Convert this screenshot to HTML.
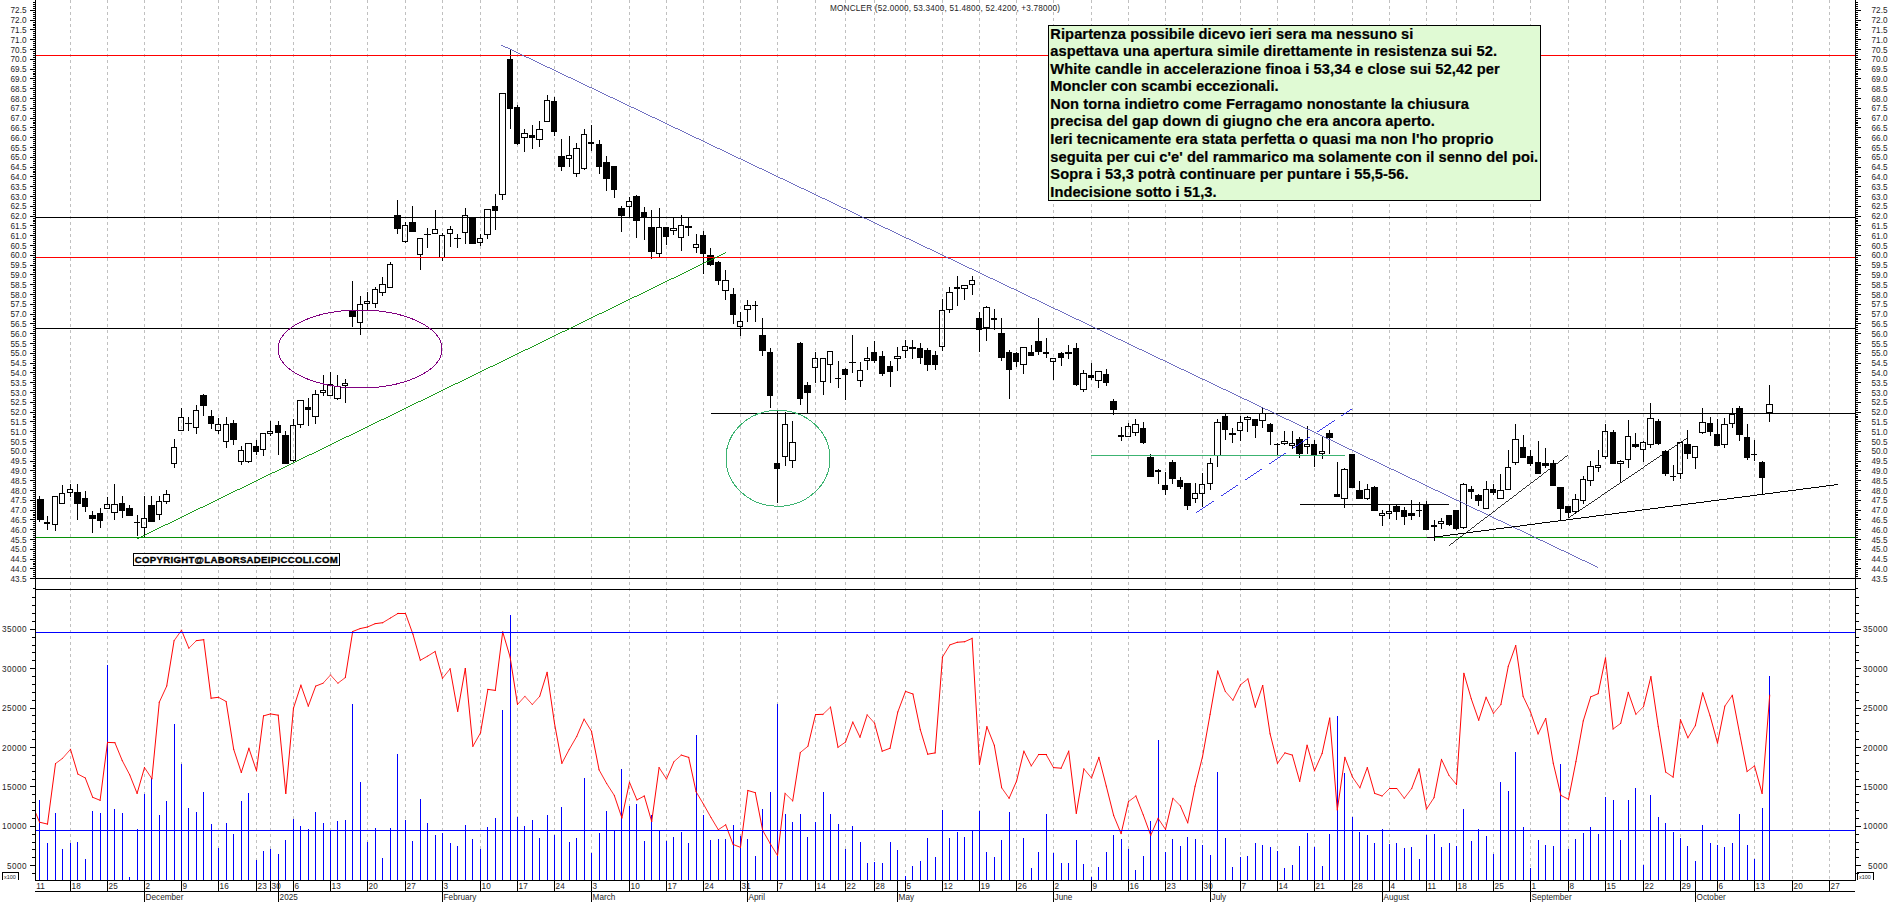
<!DOCTYPE html>
<html><head><meta charset="utf-8"><title>MONCLER</title>
<style>html,body{margin:0;padding:0;background:#fff;}body{width:1890px;height:902px;overflow:hidden;}svg{display:block;}</style></head>
<body>
<svg width="1890" height="902" viewBox="0 0 1890 902" shape-rendering="crispEdges" font-family="'Liberation Sans', Arial, sans-serif">
<rect x="0" y="0" width="1890" height="902" fill="#fff"/>
<g stroke="#c0c0c0" stroke-width="1" stroke-dasharray="3 3">
<line x1="70.5" y1="0" x2="70.5" y2="880"/>
<line x1="107.5" y1="0" x2="107.5" y2="880"/>
<line x1="144.5" y1="0" x2="144.5" y2="880"/>
<line x1="181.5" y1="0" x2="181.5" y2="880"/>
<line x1="218.5" y1="0" x2="218.5" y2="880"/>
<line x1="256.5" y1="0" x2="256.5" y2="880"/>
<line x1="270.5" y1="0" x2="270.5" y2="880"/>
<line x1="293.5" y1="0" x2="293.5" y2="880"/>
<line x1="330.5" y1="0" x2="330.5" y2="880"/>
<line x1="367.5" y1="0" x2="367.5" y2="880"/>
<line x1="405.5" y1="0" x2="405.5" y2="880"/>
<line x1="442.5" y1="0" x2="442.5" y2="880"/>
<line x1="480.5" y1="0" x2="480.5" y2="880"/>
<line x1="517.5" y1="0" x2="517.5" y2="880"/>
<line x1="554.5" y1="0" x2="554.5" y2="880"/>
<line x1="591.5" y1="0" x2="591.5" y2="880"/>
<line x1="629.5" y1="0" x2="629.5" y2="880"/>
<line x1="666.5" y1="0" x2="666.5" y2="880"/>
<line x1="703.5" y1="0" x2="703.5" y2="880"/>
<line x1="740.5" y1="0" x2="740.5" y2="880"/>
<line x1="777.5" y1="0" x2="777.5" y2="880"/>
<line x1="815.5" y1="0" x2="815.5" y2="880"/>
<line x1="845.5" y1="0" x2="845.5" y2="880"/>
<line x1="874.5" y1="0" x2="874.5" y2="880"/>
<line x1="905.5" y1="0" x2="905.5" y2="880"/>
<line x1="942.5" y1="0" x2="942.5" y2="880"/>
<line x1="979.5" y1="0" x2="979.5" y2="880"/>
<line x1="1016.5" y1="0" x2="1016.5" y2="880"/>
<line x1="1053.5" y1="0" x2="1053.5" y2="880"/>
<line x1="1091.5" y1="0" x2="1091.5" y2="880"/>
<line x1="1128.5" y1="0" x2="1128.5" y2="880"/>
<line x1="1165.5" y1="0" x2="1165.5" y2="880"/>
<line x1="1202.5" y1="0" x2="1202.5" y2="880"/>
<line x1="1240.5" y1="0" x2="1240.5" y2="880"/>
<line x1="1277.5" y1="0" x2="1277.5" y2="880"/>
<line x1="1314.5" y1="0" x2="1314.5" y2="880"/>
<line x1="1352.5" y1="0" x2="1352.5" y2="880"/>
<line x1="1389.5" y1="0" x2="1389.5" y2="880"/>
<line x1="1426.5" y1="0" x2="1426.5" y2="880"/>
<line x1="1456.5" y1="0" x2="1456.5" y2="880"/>
<line x1="1493.5" y1="0" x2="1493.5" y2="880"/>
<line x1="1530.5" y1="0" x2="1530.5" y2="880"/>
<line x1="1568.5" y1="0" x2="1568.5" y2="880"/>
<line x1="1605.5" y1="0" x2="1605.5" y2="880"/>
<line x1="1643.5" y1="0" x2="1643.5" y2="880"/>
<line x1="1680.5" y1="0" x2="1680.5" y2="880"/>
<line x1="1717.5" y1="0" x2="1717.5" y2="880"/>
<line x1="1754.5" y1="0" x2="1754.5" y2="880"/>
<line x1="1792.5" y1="0" x2="1792.5" y2="880"/>
<line x1="1829.5" y1="0" x2="1829.5" y2="880"/>
</g>
<g stroke="#0000ff" stroke-width="1">
<line x1="39.5" y1="800" x2="39.5" y2="880"/>
<line x1="47.5" y1="843" x2="47.5" y2="880"/>
<line x1="55.5" y1="813" x2="55.5" y2="880"/>
<line x1="62.5" y1="849" x2="62.5" y2="880"/>
<line x1="70.5" y1="843" x2="70.5" y2="880"/>
<line x1="77.5" y1="842" x2="77.5" y2="880"/>
<line x1="85.5" y1="859" x2="85.5" y2="880"/>
<line x1="92.5" y1="811" x2="92.5" y2="880"/>
<line x1="100.5" y1="813" x2="100.5" y2="880"/>
<line x1="107.5" y1="665" x2="107.5" y2="880"/>
<line x1="114.5" y1="809" x2="114.5" y2="880"/>
<line x1="122.5" y1="813" x2="122.5" y2="880"/>
<line x1="129.5" y1="877" x2="129.5" y2="880"/>
<line x1="137.5" y1="829" x2="137.5" y2="880"/>
<line x1="144.5" y1="794" x2="144.5" y2="880"/>
<line x1="151.5" y1="778" x2="151.5" y2="880"/>
<line x1="159.5" y1="815" x2="159.5" y2="880"/>
<line x1="166.5" y1="801" x2="166.5" y2="880"/>
<line x1="174.5" y1="724" x2="174.5" y2="880"/>
<line x1="181.5" y1="764" x2="181.5" y2="880"/>
<line x1="188.5" y1="808" x2="188.5" y2="880"/>
<line x1="196.5" y1="812" x2="196.5" y2="880"/>
<line x1="203.5" y1="792" x2="203.5" y2="880"/>
<line x1="211.5" y1="824" x2="211.5" y2="880"/>
<line x1="218.5" y1="848" x2="218.5" y2="880"/>
<line x1="226.5" y1="823" x2="226.5" y2="880"/>
<line x1="233.5" y1="834" x2="233.5" y2="880"/>
<line x1="241.5" y1="801" x2="241.5" y2="880"/>
<line x1="248.5" y1="793" x2="248.5" y2="880"/>
<line x1="256.5" y1="860" x2="256.5" y2="880"/>
<line x1="263.5" y1="851" x2="263.5" y2="880"/>
<line x1="270.5" y1="849" x2="270.5" y2="880"/>
<line x1="278.5" y1="854" x2="278.5" y2="880"/>
<line x1="285.5" y1="840" x2="285.5" y2="880"/>
<line x1="293.5" y1="819" x2="293.5" y2="880"/>
<line x1="300.5" y1="826" x2="300.5" y2="880"/>
<line x1="308.5" y1="829" x2="308.5" y2="880"/>
<line x1="315.5" y1="812" x2="315.5" y2="880"/>
<line x1="323.5" y1="823" x2="323.5" y2="880"/>
<line x1="330.5" y1="830" x2="330.5" y2="880"/>
<line x1="337.5" y1="821" x2="337.5" y2="880"/>
<line x1="345.5" y1="820" x2="345.5" y2="880"/>
<line x1="352.5" y1="704" x2="352.5" y2="880"/>
<line x1="360.5" y1="782" x2="360.5" y2="880"/>
<line x1="367.5" y1="842" x2="367.5" y2="880"/>
<line x1="375.5" y1="828" x2="375.5" y2="880"/>
<line x1="382.5" y1="858" x2="382.5" y2="880"/>
<line x1="390.5" y1="828" x2="390.5" y2="880"/>
<line x1="397.5" y1="754" x2="397.5" y2="880"/>
<line x1="405.5" y1="820" x2="405.5" y2="880"/>
<line x1="412.5" y1="841" x2="412.5" y2="880"/>
<line x1="420.5" y1="799" x2="420.5" y2="880"/>
<line x1="427.5" y1="823" x2="427.5" y2="880"/>
<line x1="435.5" y1="835" x2="435.5" y2="880"/>
<line x1="442.5" y1="833" x2="442.5" y2="880"/>
<line x1="450.5" y1="843" x2="450.5" y2="880"/>
<line x1="457.5" y1="846" x2="457.5" y2="880"/>
<line x1="465.5" y1="825" x2="465.5" y2="880"/>
<line x1="472.5" y1="839" x2="472.5" y2="880"/>
<line x1="480.5" y1="849" x2="480.5" y2="880"/>
<line x1="487.5" y1="827" x2="487.5" y2="880"/>
<line x1="495.5" y1="818" x2="495.5" y2="880"/>
<line x1="502.5" y1="710" x2="502.5" y2="880"/>
<line x1="510.5" y1="615" x2="510.5" y2="880"/>
<line x1="517.5" y1="817" x2="517.5" y2="880"/>
<line x1="524.5" y1="826" x2="524.5" y2="880"/>
<line x1="532.5" y1="820" x2="532.5" y2="880"/>
<line x1="539.5" y1="838" x2="539.5" y2="880"/>
<line x1="547.5" y1="815" x2="547.5" y2="880"/>
<line x1="554.5" y1="835" x2="554.5" y2="880"/>
<line x1="561.5" y1="807" x2="561.5" y2="880"/>
<line x1="569.5" y1="842" x2="569.5" y2="880"/>
<line x1="576.5" y1="838" x2="576.5" y2="880"/>
<line x1="584.5" y1="778" x2="584.5" y2="880"/>
<line x1="591.5" y1="853" x2="591.5" y2="880"/>
<line x1="599.5" y1="833" x2="599.5" y2="880"/>
<line x1="606.5" y1="811" x2="606.5" y2="880"/>
<line x1="614.5" y1="831" x2="614.5" y2="880"/>
<line x1="621.5" y1="769" x2="621.5" y2="880"/>
<line x1="629.5" y1="806" x2="629.5" y2="880"/>
<line x1="636.5" y1="804" x2="636.5" y2="880"/>
<line x1="644.5" y1="841" x2="644.5" y2="880"/>
<line x1="651.5" y1="815" x2="651.5" y2="880"/>
<line x1="659.5" y1="831" x2="659.5" y2="880"/>
<line x1="666.5" y1="841" x2="666.5" y2="880"/>
<line x1="673.5" y1="837" x2="673.5" y2="880"/>
<line x1="681.5" y1="832" x2="681.5" y2="880"/>
<line x1="688.5" y1="843" x2="688.5" y2="880"/>
<line x1="696.5" y1="735" x2="696.5" y2="880"/>
<line x1="703.5" y1="815" x2="703.5" y2="880"/>
<line x1="710.5" y1="840" x2="710.5" y2="880"/>
<line x1="718.5" y1="839" x2="718.5" y2="880"/>
<line x1="725.5" y1="839" x2="725.5" y2="880"/>
<line x1="733.5" y1="825" x2="733.5" y2="880"/>
<line x1="740.5" y1="836" x2="740.5" y2="880"/>
<line x1="747.5" y1="839" x2="747.5" y2="880"/>
<line x1="755.5" y1="856" x2="755.5" y2="880"/>
<line x1="762.5" y1="809" x2="762.5" y2="880"/>
<line x1="770.5" y1="792" x2="770.5" y2="880"/>
<line x1="777.5" y1="704" x2="777.5" y2="880"/>
<line x1="785.5" y1="814" x2="785.5" y2="880"/>
<line x1="792.5" y1="822" x2="792.5" y2="880"/>
<line x1="800.5" y1="814" x2="800.5" y2="880"/>
<line x1="807.5" y1="837" x2="807.5" y2="880"/>
<line x1="815.5" y1="822" x2="815.5" y2="880"/>
<line x1="823.5" y1="792" x2="823.5" y2="880"/>
<line x1="830.5" y1="814" x2="830.5" y2="880"/>
<line x1="838.5" y1="824" x2="838.5" y2="880"/>
<line x1="845.5" y1="849" x2="845.5" y2="880"/>
<line x1="852.5" y1="826" x2="852.5" y2="880"/>
<line x1="860.5" y1="842" x2="860.5" y2="880"/>
<line x1="867.5" y1="863" x2="867.5" y2="880"/>
<line x1="874.5" y1="862" x2="874.5" y2="880"/>
<line x1="882.5" y1="863" x2="882.5" y2="880"/>
<line x1="890.5" y1="842" x2="890.5" y2="880"/>
<line x1="897.5" y1="850" x2="897.5" y2="880"/>
<line x1="905.5" y1="876" x2="905.5" y2="880"/>
<line x1="912.5" y1="866" x2="912.5" y2="880"/>
<line x1="920.5" y1="861" x2="920.5" y2="880"/>
<line x1="927.5" y1="838" x2="927.5" y2="880"/>
<line x1="935.5" y1="857" x2="935.5" y2="880"/>
<line x1="942.5" y1="810" x2="942.5" y2="880"/>
<line x1="949.5" y1="838" x2="949.5" y2="880"/>
<line x1="957.5" y1="832" x2="957.5" y2="880"/>
<line x1="964.5" y1="837" x2="964.5" y2="880"/>
<line x1="972.5" y1="831" x2="972.5" y2="880"/>
<line x1="979.5" y1="811" x2="979.5" y2="880"/>
<line x1="986.5" y1="852" x2="986.5" y2="880"/>
<line x1="994.5" y1="857" x2="994.5" y2="880"/>
<line x1="1001.5" y1="840" x2="1001.5" y2="880"/>
<line x1="1009.5" y1="812" x2="1009.5" y2="880"/>
<line x1="1023.5" y1="838" x2="1023.5" y2="880"/>
<line x1="1031.5" y1="868" x2="1031.5" y2="880"/>
<line x1="1038.5" y1="852" x2="1038.5" y2="880"/>
<line x1="1046.5" y1="814" x2="1046.5" y2="880"/>
<line x1="1053.5" y1="853" x2="1053.5" y2="880"/>
<line x1="1061.5" y1="863" x2="1061.5" y2="880"/>
<line x1="1068.5" y1="863" x2="1068.5" y2="880"/>
<line x1="1076.5" y1="840" x2="1076.5" y2="880"/>
<line x1="1083.5" y1="864" x2="1083.5" y2="880"/>
<line x1="1091.5" y1="877" x2="1091.5" y2="880"/>
<line x1="1098.5" y1="867" x2="1098.5" y2="880"/>
<line x1="1106.5" y1="852" x2="1106.5" y2="880"/>
<line x1="1113.5" y1="835" x2="1113.5" y2="880"/>
<line x1="1121.5" y1="839" x2="1121.5" y2="880"/>
<line x1="1128.5" y1="849" x2="1128.5" y2="880"/>
<line x1="1135.5" y1="870" x2="1135.5" y2="880"/>
<line x1="1143.5" y1="856" x2="1143.5" y2="880"/>
<line x1="1150.5" y1="821" x2="1150.5" y2="880"/>
<line x1="1158.5" y1="740" x2="1158.5" y2="880"/>
<line x1="1165.5" y1="852" x2="1165.5" y2="880"/>
<line x1="1172.5" y1="839" x2="1172.5" y2="880"/>
<line x1="1180.5" y1="846" x2="1180.5" y2="880"/>
<line x1="1187.5" y1="837" x2="1187.5" y2="880"/>
<line x1="1195.5" y1="839" x2="1195.5" y2="880"/>
<line x1="1202.5" y1="845" x2="1202.5" y2="880"/>
<line x1="1210.5" y1="855" x2="1210.5" y2="880"/>
<line x1="1217.5" y1="772" x2="1217.5" y2="880"/>
<line x1="1225.5" y1="838" x2="1225.5" y2="880"/>
<line x1="1232.5" y1="867" x2="1232.5" y2="880"/>
<line x1="1240.5" y1="857" x2="1240.5" y2="880"/>
<line x1="1247.5" y1="856" x2="1247.5" y2="880"/>
<line x1="1255.5" y1="843" x2="1255.5" y2="880"/>
<line x1="1262.5" y1="845" x2="1262.5" y2="880"/>
<line x1="1270.5" y1="847" x2="1270.5" y2="880"/>
<line x1="1277.5" y1="851" x2="1277.5" y2="880"/>
<line x1="1284.5" y1="868" x2="1284.5" y2="880"/>
<line x1="1292.5" y1="865" x2="1292.5" y2="880"/>
<line x1="1299.5" y1="846" x2="1299.5" y2="880"/>
<line x1="1307.5" y1="833" x2="1307.5" y2="880"/>
<line x1="1314.5" y1="847" x2="1314.5" y2="880"/>
<line x1="1322.5" y1="866" x2="1322.5" y2="880"/>
<line x1="1329.5" y1="834" x2="1329.5" y2="880"/>
<line x1="1337.5" y1="716" x2="1337.5" y2="880"/>
<line x1="1344.5" y1="773" x2="1344.5" y2="880"/>
<line x1="1352.5" y1="817" x2="1352.5" y2="880"/>
<line x1="1359.5" y1="832" x2="1359.5" y2="880"/>
<line x1="1367.5" y1="835" x2="1367.5" y2="880"/>
<line x1="1374.5" y1="843" x2="1374.5" y2="880"/>
<line x1="1382.5" y1="829" x2="1382.5" y2="880"/>
<line x1="1389.5" y1="844" x2="1389.5" y2="880"/>
<line x1="1396.5" y1="843" x2="1396.5" y2="880"/>
<line x1="1404.5" y1="848" x2="1404.5" y2="880"/>
<line x1="1411.5" y1="847" x2="1411.5" y2="880"/>
<line x1="1419.5" y1="859" x2="1419.5" y2="880"/>
<line x1="1426.5" y1="835" x2="1426.5" y2="880"/>
<line x1="1434.5" y1="834" x2="1434.5" y2="880"/>
<line x1="1441.5" y1="847" x2="1441.5" y2="880"/>
<line x1="1449.5" y1="843" x2="1449.5" y2="880"/>
<line x1="1456.5" y1="846" x2="1456.5" y2="880"/>
<line x1="1463.5" y1="809" x2="1463.5" y2="880"/>
<line x1="1471.5" y1="841" x2="1471.5" y2="880"/>
<line x1="1478.5" y1="829" x2="1478.5" y2="880"/>
<line x1="1486.5" y1="836" x2="1486.5" y2="880"/>
<line x1="1493.5" y1="854" x2="1493.5" y2="880"/>
<line x1="1500.5" y1="782" x2="1500.5" y2="880"/>
<line x1="1508.5" y1="791" x2="1508.5" y2="880"/>
<line x1="1515.5" y1="752" x2="1515.5" y2="880"/>
<line x1="1523.5" y1="827" x2="1523.5" y2="880"/>
<line x1="1530.5" y1="868" x2="1530.5" y2="880"/>
<line x1="1538.5" y1="840" x2="1538.5" y2="880"/>
<line x1="1545.5" y1="845" x2="1545.5" y2="880"/>
<line x1="1553.5" y1="846" x2="1553.5" y2="880"/>
<line x1="1560.5" y1="764" x2="1560.5" y2="880"/>
<line x1="1568.5" y1="849" x2="1568.5" y2="880"/>
<line x1="1575.5" y1="839" x2="1575.5" y2="880"/>
<line x1="1583.5" y1="833" x2="1583.5" y2="880"/>
<line x1="1590.5" y1="827" x2="1590.5" y2="880"/>
<line x1="1598.5" y1="834" x2="1598.5" y2="880"/>
<line x1="1605.5" y1="797" x2="1605.5" y2="880"/>
<line x1="1613.5" y1="800" x2="1613.5" y2="880"/>
<line x1="1620.5" y1="840" x2="1620.5" y2="880"/>
<line x1="1628.5" y1="800" x2="1628.5" y2="880"/>
<line x1="1635.5" y1="788" x2="1635.5" y2="880"/>
<line x1="1643.5" y1="865" x2="1643.5" y2="880"/>
<line x1="1650.5" y1="795" x2="1650.5" y2="880"/>
<line x1="1658.5" y1="817" x2="1658.5" y2="880"/>
<line x1="1665.5" y1="823" x2="1665.5" y2="880"/>
<line x1="1673.5" y1="832" x2="1673.5" y2="880"/>
<line x1="1680.5" y1="838" x2="1680.5" y2="880"/>
<line x1="1687.5" y1="846" x2="1687.5" y2="880"/>
<line x1="1695.5" y1="861" x2="1695.5" y2="880"/>
<line x1="1702.5" y1="825" x2="1702.5" y2="880"/>
<line x1="1710.5" y1="843" x2="1710.5" y2="880"/>
<line x1="1717.5" y1="845" x2="1717.5" y2="880"/>
<line x1="1724.5" y1="847" x2="1724.5" y2="880"/>
<line x1="1732.5" y1="843" x2="1732.5" y2="880"/>
<line x1="1739.5" y1="814" x2="1739.5" y2="880"/>
<line x1="1747.5" y1="845" x2="1747.5" y2="880"/>
<line x1="1754.5" y1="859" x2="1754.5" y2="880"/>
<line x1="1762.5" y1="808" x2="1762.5" y2="880"/>
<line x1="1769.5" y1="676" x2="1769.5" y2="880"/>
</g>
<line x1="35.5" y1="812.4" x2="39.5" y2="822.2" stroke="#ff0000" stroke-width="0.926" stroke-linecap="square"/>
<line x1="39.5" y1="822.2" x2="47.5" y2="824.1" stroke="#ff0000" stroke-width="0.971" stroke-linecap="square"/>
<line x1="47.5" y1="824.1" x2="55.5" y2="763.6" stroke="#ff0000" stroke-width="0.991" stroke-linecap="square"/>
<line x1="55.5" y1="763.6" x2="62.5" y2="758.4" stroke="#ff0000" stroke-width="0.801" stroke-linecap="square"/>
<line x1="62.5" y1="758.4" x2="70.5" y2="749.3" stroke="#ff0000" stroke-width="0.753" stroke-linecap="square"/>
<line x1="70.5" y1="749.3" x2="77.9" y2="774.1" stroke="#ff0000" stroke-width="0.958" stroke-linecap="square"/>
<line x1="77.9" y1="774.1" x2="85.3" y2="778.0" stroke="#ff0000" stroke-width="0.883" stroke-linecap="square"/>
<line x1="85.3" y1="778.0" x2="92.7" y2="797.3" stroke="#ff0000" stroke-width="0.934" stroke-linecap="square"/>
<line x1="92.7" y1="797.3" x2="100.1" y2="800.3" stroke="#ff0000" stroke-width="0.929" stroke-linecap="square"/>
<line x1="100.1" y1="800.3" x2="107.5" y2="742.4" stroke="#ff0000" stroke-width="0.992" stroke-linecap="square"/>
<line x1="107.5" y1="742.4" x2="114.9" y2="742.7" stroke="#ff0000" stroke-width="0.999" stroke-linecap="square"/>
<line x1="114.9" y1="742.7" x2="122.3" y2="760.7" stroke="#ff0000" stroke-width="0.925" stroke-linecap="square"/>
<line x1="122.3" y1="760.7" x2="129.7" y2="774.8" stroke="#ff0000" stroke-width="0.885" stroke-linecap="square"/>
<line x1="129.7" y1="774.8" x2="137.1" y2="793.4" stroke="#ff0000" stroke-width="0.929" stroke-linecap="square"/>
<line x1="137.1" y1="793.4" x2="144.5" y2="767.6" stroke="#ff0000" stroke-width="0.961" stroke-linecap="square"/>
<line x1="144.5" y1="767.6" x2="151.9" y2="778.7" stroke="#ff0000" stroke-width="0.832" stroke-linecap="square"/>
<line x1="151.9" y1="778.7" x2="159.3" y2="702.2" stroke="#ff0000" stroke-width="0.995" stroke-linecap="square"/>
<line x1="159.3" y1="702.2" x2="166.7" y2="686.1" stroke="#ff0000" stroke-width="0.908" stroke-linecap="square"/>
<line x1="166.7" y1="686.1" x2="174.1" y2="640.7" stroke="#ff0000" stroke-width="0.987" stroke-linecap="square"/>
<line x1="174.1" y1="640.7" x2="181.5" y2="630.2" stroke="#ff0000" stroke-width="0.816" stroke-linecap="square"/>
<line x1="181.5" y1="630.2" x2="188.9" y2="648.2" stroke="#ff0000" stroke-width="0.925" stroke-linecap="square"/>
<line x1="188.9" y1="648.2" x2="196.3" y2="640.7" stroke="#ff0000" stroke-width="0.713" stroke-linecap="square"/>
<line x1="196.3" y1="640.7" x2="203.7" y2="639.7" stroke="#ff0000" stroke-width="0.991" stroke-linecap="square"/>
<line x1="203.7" y1="639.7" x2="211.1" y2="698.2" stroke="#ff0000" stroke-width="0.992" stroke-linecap="square"/>
<line x1="211.1" y1="698.2" x2="218.5" y2="697.3" stroke="#ff0000" stroke-width="0.991" stroke-linecap="square"/>
<line x1="218.5" y1="697.3" x2="226.1" y2="701.5" stroke="#ff0000" stroke-width="0.873" stroke-linecap="square"/>
<line x1="226.1" y1="701.5" x2="233.7" y2="749.3" stroke="#ff0000" stroke-width="0.988" stroke-linecap="square"/>
<line x1="233.7" y1="749.3" x2="241.3" y2="772.5" stroke="#ff0000" stroke-width="0.950" stroke-linecap="square"/>
<line x1="241.3" y1="772.5" x2="248.9" y2="748.3" stroke="#ff0000" stroke-width="0.954" stroke-linecap="square"/>
<line x1="248.9" y1="748.3" x2="256.5" y2="770.8" stroke="#ff0000" stroke-width="0.948" stroke-linecap="square"/>
<line x1="256.5" y1="770.8" x2="263.5" y2="715.9" stroke="#ff0000" stroke-width="0.992" stroke-linecap="square"/>
<line x1="263.5" y1="715.9" x2="270.5" y2="713.9" stroke="#ff0000" stroke-width="0.963" stroke-linecap="square"/>
<line x1="270.5" y1="713.9" x2="278.2" y2="715.2" stroke="#ff0000" stroke-width="0.986" stroke-linecap="square"/>
<line x1="278.2" y1="715.2" x2="285.8" y2="793.4" stroke="#ff0000" stroke-width="0.995" stroke-linecap="square"/>
<line x1="285.8" y1="793.4" x2="293.5" y2="708.1" stroke="#ff0000" stroke-width="0.996" stroke-linecap="square"/>
<line x1="293.5" y1="708.1" x2="300.9" y2="685.2" stroke="#ff0000" stroke-width="0.952" stroke-linecap="square"/>
<line x1="300.9" y1="685.2" x2="308.3" y2="706.1" stroke="#ff0000" stroke-width="0.943" stroke-linecap="square"/>
<line x1="308.3" y1="706.1" x2="315.7" y2="686.1" stroke="#ff0000" stroke-width="0.938" stroke-linecap="square"/>
<line x1="315.7" y1="686.1" x2="323.1" y2="683.2" stroke="#ff0000" stroke-width="0.929" stroke-linecap="square"/>
<line x1="323.1" y1="683.2" x2="330.5" y2="675.0" stroke="#ff0000" stroke-width="0.741" stroke-linecap="square"/>
<line x1="330.5" y1="675.0" x2="337.9" y2="683.2" stroke="#ff0000" stroke-width="0.741" stroke-linecap="square"/>
<line x1="337.9" y1="683.2" x2="345.3" y2="677.6" stroke="#ff0000" stroke-width="0.800" stroke-linecap="square"/>
<line x1="345.3" y1="677.6" x2="352.7" y2="631.5" stroke="#ff0000" stroke-width="0.987" stroke-linecap="square"/>
<line x1="352.7" y1="631.5" x2="360.1" y2="628.6" stroke="#ff0000" stroke-width="0.929" stroke-linecap="square"/>
<line x1="360.1" y1="628.6" x2="367.5" y2="627.0" stroke="#ff0000" stroke-width="0.976" stroke-linecap="square"/>
<line x1="367.5" y1="627.0" x2="375.1" y2="623.7" stroke="#ff0000" stroke-width="0.919" stroke-linecap="square"/>
<line x1="375.1" y1="623.7" x2="382.7" y2="622.7" stroke="#ff0000" stroke-width="0.992" stroke-linecap="square"/>
<line x1="382.7" y1="622.7" x2="390.3" y2="618.1" stroke="#ff0000" stroke-width="0.857" stroke-linecap="square"/>
<line x1="390.3" y1="618.1" x2="397.9" y2="613.5" stroke="#ff0000" stroke-width="0.857" stroke-linecap="square"/>
<line x1="397.9" y1="613.5" x2="405.5" y2="613.5" stroke="#ff0000" stroke-width="1.000" stroke-linecap="square"/>
<line x1="405.5" y1="613.5" x2="412.9" y2="634.1" stroke="#ff0000" stroke-width="0.941" stroke-linecap="square"/>
<line x1="412.9" y1="634.1" x2="420.3" y2="660.3" stroke="#ff0000" stroke-width="0.962" stroke-linecap="square"/>
<line x1="420.3" y1="660.3" x2="427.7" y2="656.1" stroke="#ff0000" stroke-width="0.867" stroke-linecap="square"/>
<line x1="427.7" y1="656.1" x2="435.1" y2="651.5" stroke="#ff0000" stroke-width="0.850" stroke-linecap="square"/>
<line x1="435.1" y1="651.5" x2="442.5" y2="678.3" stroke="#ff0000" stroke-width="0.964" stroke-linecap="square"/>
<line x1="442.5" y1="678.3" x2="450.1" y2="668.8" stroke="#ff0000" stroke-width="0.780" stroke-linecap="square"/>
<line x1="450.1" y1="668.8" x2="457.7" y2="711.3" stroke="#ff0000" stroke-width="0.984" stroke-linecap="square"/>
<line x1="457.7" y1="711.3" x2="465.3" y2="668.5" stroke="#ff0000" stroke-width="0.985" stroke-linecap="square"/>
<line x1="465.3" y1="668.5" x2="472.9" y2="746.3" stroke="#ff0000" stroke-width="0.995" stroke-linecap="square"/>
<line x1="472.9" y1="746.3" x2="480.5" y2="732.9" stroke="#ff0000" stroke-width="0.870" stroke-linecap="square"/>
<line x1="480.5" y1="732.9" x2="487.9" y2="689.4" stroke="#ff0000" stroke-width="0.986" stroke-linecap="square"/>
<line x1="487.9" y1="689.4" x2="495.3" y2="690.4" stroke="#ff0000" stroke-width="0.991" stroke-linecap="square"/>
<line x1="495.3" y1="690.4" x2="502.7" y2="631.9" stroke="#ff0000" stroke-width="0.992" stroke-linecap="square"/>
<line x1="502.7" y1="631.9" x2="510.1" y2="657.0" stroke="#ff0000" stroke-width="0.959" stroke-linecap="square"/>
<line x1="510.1" y1="657.0" x2="517.5" y2="704.5" stroke="#ff0000" stroke-width="0.988" stroke-linecap="square"/>
<line x1="517.5" y1="704.5" x2="524.9" y2="696.3" stroke="#ff0000" stroke-width="0.741" stroke-linecap="square"/>
<line x1="524.9" y1="696.3" x2="532.3" y2="704.5" stroke="#ff0000" stroke-width="0.741" stroke-linecap="square"/>
<line x1="532.3" y1="704.5" x2="539.7" y2="696.3" stroke="#ff0000" stroke-width="0.741" stroke-linecap="square"/>
<line x1="539.7" y1="696.3" x2="547.1" y2="672.4" stroke="#ff0000" stroke-width="0.955" stroke-linecap="square"/>
<line x1="547.1" y1="672.4" x2="554.5" y2="723.4" stroke="#ff0000" stroke-width="0.990" stroke-linecap="square"/>
<line x1="554.5" y1="723.4" x2="561.9" y2="763.3" stroke="#ff0000" stroke-width="0.983" stroke-linecap="square"/>
<line x1="561.9" y1="763.3" x2="569.3" y2="749.3" stroke="#ff0000" stroke-width="0.885" stroke-linecap="square"/>
<line x1="569.3" y1="749.3" x2="576.7" y2="736.5" stroke="#ff0000" stroke-width="0.865" stroke-linecap="square"/>
<line x1="576.7" y1="736.5" x2="584.1" y2="719.2" stroke="#ff0000" stroke-width="0.920" stroke-linecap="square"/>
<line x1="584.1" y1="719.2" x2="591.5" y2="731.3" stroke="#ff0000" stroke-width="0.853" stroke-linecap="square"/>
<line x1="591.5" y1="731.3" x2="599.1" y2="769.9" stroke="#ff0000" stroke-width="0.981" stroke-linecap="square"/>
<line x1="599.1" y1="769.9" x2="606.7" y2="783.6" stroke="#ff0000" stroke-width="0.875" stroke-linecap="square"/>
<line x1="606.7" y1="783.6" x2="614.3" y2="795.4" stroke="#ff0000" stroke-width="0.840" stroke-linecap="square"/>
<line x1="614.3" y1="795.4" x2="621.9" y2="817.9" stroke="#ff0000" stroke-width="0.948" stroke-linecap="square"/>
<line x1="621.9" y1="817.9" x2="629.5" y2="782.3" stroke="#ff0000" stroke-width="0.978" stroke-linecap="square"/>
<line x1="629.5" y1="782.3" x2="636.9" y2="799.9" stroke="#ff0000" stroke-width="0.922" stroke-linecap="square"/>
<line x1="636.9" y1="799.9" x2="644.3" y2="796.0" stroke="#ff0000" stroke-width="0.883" stroke-linecap="square"/>
<line x1="644.3" y1="796.0" x2="651.7" y2="821.5" stroke="#ff0000" stroke-width="0.960" stroke-linecap="square"/>
<line x1="651.7" y1="821.5" x2="659.1" y2="767.6" stroke="#ff0000" stroke-width="0.991" stroke-linecap="square"/>
<line x1="659.1" y1="767.6" x2="666.5" y2="779.0" stroke="#ff0000" stroke-width="0.840" stroke-linecap="square"/>
<line x1="666.5" y1="779.0" x2="673.9" y2="761.7" stroke="#ff0000" stroke-width="0.920" stroke-linecap="square"/>
<line x1="673.9" y1="761.7" x2="681.3" y2="755.1" stroke="#ff0000" stroke-width="0.749" stroke-linecap="square"/>
<line x1="681.3" y1="755.1" x2="688.7" y2="757.4" stroke="#ff0000" stroke-width="0.955" stroke-linecap="square"/>
<line x1="688.7" y1="757.4" x2="696.1" y2="791.8" stroke="#ff0000" stroke-width="0.978" stroke-linecap="square"/>
<line x1="696.1" y1="791.8" x2="703.5" y2="804.2" stroke="#ff0000" stroke-width="0.859" stroke-linecap="square"/>
<line x1="703.5" y1="804.2" x2="710.9" y2="817.3" stroke="#ff0000" stroke-width="0.870" stroke-linecap="square"/>
<line x1="710.9" y1="817.3" x2="718.3" y2="829.7" stroke="#ff0000" stroke-width="0.859" stroke-linecap="square"/>
<line x1="718.3" y1="829.7" x2="725.7" y2="824.8" stroke="#ff0000" stroke-width="0.834" stroke-linecap="square"/>
<line x1="725.7" y1="824.8" x2="733.1" y2="844.4" stroke="#ff0000" stroke-width="0.936" stroke-linecap="square"/>
<line x1="733.1" y1="844.4" x2="740.5" y2="847.4" stroke="#ff0000" stroke-width="0.929" stroke-linecap="square"/>
<line x1="740.5" y1="847.4" x2="747.9" y2="790.5" stroke="#ff0000" stroke-width="0.992" stroke-linecap="square"/>
<line x1="747.9" y1="790.5" x2="755.3" y2="792.7" stroke="#ff0000" stroke-width="0.955" stroke-linecap="square"/>
<line x1="755.3" y1="792.7" x2="762.7" y2="830.4" stroke="#ff0000" stroke-width="0.981" stroke-linecap="square"/>
<line x1="762.7" y1="830.4" x2="770.1" y2="843.4" stroke="#ff0000" stroke-width="0.870" stroke-linecap="square"/>
<line x1="770.1" y1="843.4" x2="777.5" y2="855.5" stroke="#ff0000" stroke-width="0.853" stroke-linecap="square"/>
<line x1="777.5" y1="855.5" x2="785.1" y2="793.4" stroke="#ff0000" stroke-width="0.993" stroke-linecap="square"/>
<line x1="785.1" y1="793.4" x2="792.7" y2="800.9" stroke="#ff0000" stroke-width="0.711" stroke-linecap="square"/>
<line x1="792.7" y1="800.9" x2="800.3" y2="752.5" stroke="#ff0000" stroke-width="0.988" stroke-linecap="square"/>
<line x1="800.3" y1="752.5" x2="807.9" y2="746.3" stroke="#ff0000" stroke-width="0.774" stroke-linecap="square"/>
<line x1="807.9" y1="746.3" x2="815.5" y2="714.6" stroke="#ff0000" stroke-width="0.972" stroke-linecap="square"/>
<line x1="815.5" y1="714.6" x2="823.0" y2="714.3" stroke="#ff0000" stroke-width="0.999" stroke-linecap="square"/>
<line x1="823.0" y1="714.3" x2="830.5" y2="707.1" stroke="#ff0000" stroke-width="0.722" stroke-linecap="square"/>
<line x1="830.5" y1="707.1" x2="838.0" y2="747.3" stroke="#ff0000" stroke-width="0.983" stroke-linecap="square"/>
<line x1="838.0" y1="747.3" x2="845.5" y2="742.1" stroke="#ff0000" stroke-width="0.820" stroke-linecap="square"/>
<line x1="845.5" y1="742.1" x2="852.8" y2="722.1" stroke="#ff0000" stroke-width="0.940" stroke-linecap="square"/>
<line x1="852.8" y1="722.1" x2="860.0" y2="737.2" stroke="#ff0000" stroke-width="0.901" stroke-linecap="square"/>
<line x1="860.0" y1="737.2" x2="867.2" y2="714.9" stroke="#ff0000" stroke-width="0.951" stroke-linecap="square"/>
<line x1="867.2" y1="714.9" x2="874.5" y2="723.1" stroke="#ff0000" stroke-width="0.748" stroke-linecap="square"/>
<line x1="874.5" y1="723.1" x2="882.2" y2="751.2" stroke="#ff0000" stroke-width="0.964" stroke-linecap="square"/>
<line x1="882.2" y1="751.2" x2="890.0" y2="748.3" stroke="#ff0000" stroke-width="0.935" stroke-linecap="square"/>
<line x1="890.0" y1="748.3" x2="897.8" y2="712.0" stroke="#ff0000" stroke-width="0.978" stroke-linecap="square"/>
<line x1="897.8" y1="712.0" x2="905.5" y2="691.4" stroke="#ff0000" stroke-width="0.936" stroke-linecap="square"/>
<line x1="905.5" y1="691.4" x2="912.9" y2="694.0" stroke="#ff0000" stroke-width="0.943" stroke-linecap="square"/>
<line x1="912.9" y1="694.0" x2="920.3" y2="729.6" stroke="#ff0000" stroke-width="0.979" stroke-linecap="square"/>
<line x1="920.3" y1="729.6" x2="927.7" y2="754.2" stroke="#ff0000" stroke-width="0.957" stroke-linecap="square"/>
<line x1="927.7" y1="754.2" x2="935.1" y2="752.9" stroke="#ff0000" stroke-width="0.985" stroke-linecap="square"/>
<line x1="935.1" y1="752.9" x2="942.5" y2="657.0" stroke="#ff0000" stroke-width="0.997" stroke-linecap="square"/>
<line x1="942.5" y1="657.0" x2="949.9" y2="644.9" stroke="#ff0000" stroke-width="0.853" stroke-linecap="square"/>
<line x1="949.9" y1="644.9" x2="957.3" y2="642.3" stroke="#ff0000" stroke-width="0.943" stroke-linecap="square"/>
<line x1="957.3" y1="642.3" x2="964.7" y2="641.7" stroke="#ff0000" stroke-width="0.996" stroke-linecap="square"/>
<line x1="964.7" y1="641.7" x2="972.1" y2="638.4" stroke="#ff0000" stroke-width="0.915" stroke-linecap="square"/>
<line x1="972.1" y1="638.4" x2="979.5" y2="764.3" stroke="#ff0000" stroke-width="0.998" stroke-linecap="square"/>
<line x1="979.5" y1="764.3" x2="986.9" y2="726.7" stroke="#ff0000" stroke-width="0.981" stroke-linecap="square"/>
<line x1="986.9" y1="726.7" x2="994.3" y2="745.3" stroke="#ff0000" stroke-width="0.929" stroke-linecap="square"/>
<line x1="994.3" y1="745.3" x2="1001.7" y2="787.8" stroke="#ff0000" stroke-width="0.985" stroke-linecap="square"/>
<line x1="1001.7" y1="787.8" x2="1009.1" y2="798.3" stroke="#ff0000" stroke-width="0.816" stroke-linecap="square"/>
<line x1="1009.1" y1="798.3" x2="1016.5" y2="781.3" stroke="#ff0000" stroke-width="0.917" stroke-linecap="square"/>
<line x1="1016.5" y1="781.3" x2="1023.9" y2="751.2" stroke="#ff0000" stroke-width="0.971" stroke-linecap="square"/>
<line x1="1023.9" y1="751.2" x2="1031.3" y2="765.9" stroke="#ff0000" stroke-width="0.893" stroke-linecap="square"/>
<line x1="1031.3" y1="765.9" x2="1038.7" y2="754.5" stroke="#ff0000" stroke-width="0.840" stroke-linecap="square"/>
<line x1="1038.7" y1="754.5" x2="1046.1" y2="754.5" stroke="#ff0000" stroke-width="1.000" stroke-linecap="square"/>
<line x1="1046.1" y1="754.5" x2="1053.5" y2="767.6" stroke="#ff0000" stroke-width="0.870" stroke-linecap="square"/>
<line x1="1053.5" y1="767.6" x2="1061.1" y2="768.2" stroke="#ff0000" stroke-width="0.996" stroke-linecap="square"/>
<line x1="1061.1" y1="768.2" x2="1068.7" y2="751.2" stroke="#ff0000" stroke-width="0.913" stroke-linecap="square"/>
<line x1="1068.7" y1="751.2" x2="1076.3" y2="813.3" stroke="#ff0000" stroke-width="0.993" stroke-linecap="square"/>
<line x1="1076.3" y1="813.3" x2="1083.9" y2="768.9" stroke="#ff0000" stroke-width="0.986" stroke-linecap="square"/>
<line x1="1083.9" y1="768.9" x2="1091.5" y2="778.0" stroke="#ff0000" stroke-width="0.769" stroke-linecap="square"/>
<line x1="1091.5" y1="778.0" x2="1098.9" y2="757.4" stroke="#ff0000" stroke-width="0.941" stroke-linecap="square"/>
<line x1="1098.9" y1="757.4" x2="1106.3" y2="786.2" stroke="#ff0000" stroke-width="0.968" stroke-linecap="square"/>
<line x1="1106.3" y1="786.2" x2="1113.7" y2="815.6" stroke="#ff0000" stroke-width="0.970" stroke-linecap="square"/>
<line x1="1113.7" y1="815.6" x2="1121.1" y2="833.6" stroke="#ff0000" stroke-width="0.925" stroke-linecap="square"/>
<line x1="1121.1" y1="833.6" x2="1128.5" y2="801.6" stroke="#ff0000" stroke-width="0.974" stroke-linecap="square"/>
<line x1="1128.5" y1="801.6" x2="1135.9" y2="796.0" stroke="#ff0000" stroke-width="0.800" stroke-linecap="square"/>
<line x1="1135.9" y1="796.0" x2="1143.3" y2="815.0" stroke="#ff0000" stroke-width="0.932" stroke-linecap="square"/>
<line x1="1143.3" y1="815.0" x2="1150.7" y2="835.3" stroke="#ff0000" stroke-width="0.939" stroke-linecap="square"/>
<line x1="1150.7" y1="835.3" x2="1158.1" y2="818.3" stroke="#ff0000" stroke-width="0.917" stroke-linecap="square"/>
<line x1="1158.1" y1="818.3" x2="1165.5" y2="829.4" stroke="#ff0000" stroke-width="0.832" stroke-linecap="square"/>
<line x1="1165.5" y1="829.4" x2="1172.9" y2="798.3" stroke="#ff0000" stroke-width="0.973" stroke-linecap="square"/>
<line x1="1172.9" y1="798.3" x2="1180.3" y2="805.8" stroke="#ff0000" stroke-width="0.713" stroke-linecap="square"/>
<line x1="1180.3" y1="805.8" x2="1187.7" y2="822.8" stroke="#ff0000" stroke-width="0.917" stroke-linecap="square"/>
<line x1="1187.7" y1="822.8" x2="1195.1" y2="786.2" stroke="#ff0000" stroke-width="0.980" stroke-linecap="square"/>
<line x1="1195.1" y1="786.2" x2="1202.5" y2="756.8" stroke="#ff0000" stroke-width="0.970" stroke-linecap="square"/>
<line x1="1202.5" y1="756.8" x2="1210.1" y2="714.3" stroke="#ff0000" stroke-width="0.984" stroke-linecap="square"/>
<line x1="1210.1" y1="714.3" x2="1217.7" y2="671.1" stroke="#ff0000" stroke-width="0.985" stroke-linecap="square"/>
<line x1="1217.7" y1="671.1" x2="1225.3" y2="691.4" stroke="#ff0000" stroke-width="0.936" stroke-linecap="square"/>
<line x1="1225.3" y1="691.4" x2="1232.9" y2="700.2" stroke="#ff0000" stroke-width="0.758" stroke-linecap="square"/>
<line x1="1232.9" y1="700.2" x2="1240.5" y2="684.8" stroke="#ff0000" stroke-width="0.896" stroke-linecap="square"/>
<line x1="1240.5" y1="684.8" x2="1247.9" y2="678.9" stroke="#ff0000" stroke-width="0.783" stroke-linecap="square"/>
<line x1="1247.9" y1="678.9" x2="1255.3" y2="707.1" stroke="#ff0000" stroke-width="0.967" stroke-linecap="square"/>
<line x1="1255.3" y1="707.1" x2="1262.7" y2="685.5" stroke="#ff0000" stroke-width="0.946" stroke-linecap="square"/>
<line x1="1262.7" y1="685.5" x2="1270.1" y2="733.9" stroke="#ff0000" stroke-width="0.989" stroke-linecap="square"/>
<line x1="1270.1" y1="733.9" x2="1277.5" y2="763.3" stroke="#ff0000" stroke-width="0.970" stroke-linecap="square"/>
<line x1="1277.5" y1="763.3" x2="1284.9" y2="752.9" stroke="#ff0000" stroke-width="0.816" stroke-linecap="square"/>
<line x1="1284.9" y1="752.9" x2="1292.3" y2="755.1" stroke="#ff0000" stroke-width="0.955" stroke-linecap="square"/>
<line x1="1292.3" y1="755.1" x2="1299.7" y2="781.3" stroke="#ff0000" stroke-width="0.962" stroke-linecap="square"/>
<line x1="1299.7" y1="781.3" x2="1307.1" y2="745.3" stroke="#ff0000" stroke-width="0.979" stroke-linecap="square"/>
<line x1="1307.1" y1="745.3" x2="1314.5" y2="770.8" stroke="#ff0000" stroke-width="0.960" stroke-linecap="square"/>
<line x1="1314.5" y1="770.8" x2="1322.1" y2="753.5" stroke="#ff0000" stroke-width="0.916" stroke-linecap="square"/>
<line x1="1322.1" y1="753.5" x2="1329.7" y2="718.2" stroke="#ff0000" stroke-width="0.978" stroke-linecap="square"/>
<line x1="1329.7" y1="718.2" x2="1337.3" y2="809.8" stroke="#ff0000" stroke-width="0.997" stroke-linecap="square"/>
<line x1="1337.3" y1="809.8" x2="1344.9" y2="757.4" stroke="#ff0000" stroke-width="0.990" stroke-linecap="square"/>
<line x1="1344.9" y1="757.4" x2="1352.5" y2="777.1" stroke="#ff0000" stroke-width="0.932" stroke-linecap="square"/>
<line x1="1352.5" y1="777.1" x2="1359.9" y2="787.8" stroke="#ff0000" stroke-width="0.825" stroke-linecap="square"/>
<line x1="1359.9" y1="787.8" x2="1367.3" y2="767.6" stroke="#ff0000" stroke-width="0.939" stroke-linecap="square"/>
<line x1="1367.3" y1="767.6" x2="1374.7" y2="793.4" stroke="#ff0000" stroke-width="0.961" stroke-linecap="square"/>
<line x1="1374.7" y1="793.4" x2="1382.1" y2="796.0" stroke="#ff0000" stroke-width="0.943" stroke-linecap="square"/>
<line x1="1382.1" y1="796.0" x2="1389.5" y2="788.5" stroke="#ff0000" stroke-width="0.713" stroke-linecap="square"/>
<line x1="1389.5" y1="788.5" x2="1396.9" y2="788.5" stroke="#ff0000" stroke-width="1.000" stroke-linecap="square"/>
<line x1="1396.9" y1="788.5" x2="1404.3" y2="798.3" stroke="#ff0000" stroke-width="0.798" stroke-linecap="square"/>
<line x1="1404.3" y1="798.3" x2="1411.7" y2="788.5" stroke="#ff0000" stroke-width="0.798" stroke-linecap="square"/>
<line x1="1411.7" y1="788.5" x2="1419.1" y2="768.9" stroke="#ff0000" stroke-width="0.936" stroke-linecap="square"/>
<line x1="1419.1" y1="768.9" x2="1426.5" y2="809.1" stroke="#ff0000" stroke-width="0.983" stroke-linecap="square"/>
<line x1="1426.5" y1="809.1" x2="1434.0" y2="797.7" stroke="#ff0000" stroke-width="0.836" stroke-linecap="square"/>
<line x1="1434.0" y1="797.7" x2="1441.5" y2="759.4" stroke="#ff0000" stroke-width="0.981" stroke-linecap="square"/>
<line x1="1441.5" y1="759.4" x2="1449.0" y2="775.4" stroke="#ff0000" stroke-width="0.906" stroke-linecap="square"/>
<line x1="1449.0" y1="775.4" x2="1456.5" y2="784.6" stroke="#ff0000" stroke-width="0.774" stroke-linecap="square"/>
<line x1="1456.5" y1="784.6" x2="1463.9" y2="673.4" stroke="#ff0000" stroke-width="0.998" stroke-linecap="square"/>
<line x1="1463.9" y1="673.4" x2="1471.3" y2="698.9" stroke="#ff0000" stroke-width="0.960" stroke-linecap="square"/>
<line x1="1471.3" y1="698.9" x2="1478.7" y2="720.2" stroke="#ff0000" stroke-width="0.944" stroke-linecap="square"/>
<line x1="1478.7" y1="720.2" x2="1486.1" y2="697.3" stroke="#ff0000" stroke-width="0.952" stroke-linecap="square"/>
<line x1="1486.1" y1="697.3" x2="1493.5" y2="713.3" stroke="#ff0000" stroke-width="0.908" stroke-linecap="square"/>
<line x1="1493.5" y1="713.3" x2="1500.9" y2="704.5" stroke="#ff0000" stroke-width="0.766" stroke-linecap="square"/>
<line x1="1500.9" y1="704.5" x2="1508.3" y2="666.2" stroke="#ff0000" stroke-width="0.982" stroke-linecap="square"/>
<line x1="1508.3" y1="666.2" x2="1515.7" y2="645.6" stroke="#ff0000" stroke-width="0.941" stroke-linecap="square"/>
<line x1="1515.7" y1="645.6" x2="1523.1" y2="696.3" stroke="#ff0000" stroke-width="0.990" stroke-linecap="square"/>
<line x1="1523.1" y1="696.3" x2="1530.5" y2="712.0" stroke="#ff0000" stroke-width="0.905" stroke-linecap="square"/>
<line x1="1530.5" y1="712.0" x2="1538.1" y2="733.9" stroke="#ff0000" stroke-width="0.945" stroke-linecap="square"/>
<line x1="1538.1" y1="733.9" x2="1545.7" y2="718.5" stroke="#ff0000" stroke-width="0.896" stroke-linecap="square"/>
<line x1="1545.7" y1="718.5" x2="1553.3" y2="763.3" stroke="#ff0000" stroke-width="0.986" stroke-linecap="square"/>
<line x1="1553.3" y1="763.3" x2="1560.9" y2="795.4" stroke="#ff0000" stroke-width="0.973" stroke-linecap="square"/>
<line x1="1560.9" y1="795.4" x2="1568.5" y2="799.3" stroke="#ff0000" stroke-width="0.889" stroke-linecap="square"/>
<line x1="1568.5" y1="799.3" x2="1575.9" y2="761.7" stroke="#ff0000" stroke-width="0.981" stroke-linecap="square"/>
<line x1="1575.9" y1="761.7" x2="1583.3" y2="720.8" stroke="#ff0000" stroke-width="0.984" stroke-linecap="square"/>
<line x1="1583.3" y1="720.8" x2="1590.7" y2="696.9" stroke="#ff0000" stroke-width="0.955" stroke-linecap="square"/>
<line x1="1590.7" y1="696.9" x2="1598.1" y2="693.7" stroke="#ff0000" stroke-width="0.915" stroke-linecap="square"/>
<line x1="1598.1" y1="693.7" x2="1605.5" y2="658.0" stroke="#ff0000" stroke-width="0.979" stroke-linecap="square"/>
<line x1="1605.5" y1="658.0" x2="1613.1" y2="729.0" stroke="#ff0000" stroke-width="0.994" stroke-linecap="square"/>
<line x1="1613.1" y1="729.0" x2="1620.7" y2="723.4" stroke="#ff0000" stroke-width="0.807" stroke-linecap="square"/>
<line x1="1620.7" y1="723.4" x2="1628.3" y2="692.4" stroke="#ff0000" stroke-width="0.971" stroke-linecap="square"/>
<line x1="1628.3" y1="692.4" x2="1635.9" y2="714.3" stroke="#ff0000" stroke-width="0.945" stroke-linecap="square"/>
<line x1="1635.9" y1="714.3" x2="1643.5" y2="706.7" stroke="#ff0000" stroke-width="0.711" stroke-linecap="square"/>
<line x1="1643.5" y1="706.7" x2="1650.9" y2="676.7" stroke="#ff0000" stroke-width="0.971" stroke-linecap="square"/>
<line x1="1650.9" y1="676.7" x2="1658.3" y2="726.7" stroke="#ff0000" stroke-width="0.989" stroke-linecap="square"/>
<line x1="1658.3" y1="726.7" x2="1665.7" y2="772.1" stroke="#ff0000" stroke-width="0.987" stroke-linecap="square"/>
<line x1="1665.7" y1="772.1" x2="1673.1" y2="777.1" stroke="#ff0000" stroke-width="0.834" stroke-linecap="square"/>
<line x1="1673.1" y1="777.1" x2="1680.5" y2="719.8" stroke="#ff0000" stroke-width="0.992" stroke-linecap="square"/>
<line x1="1680.5" y1="719.8" x2="1687.9" y2="737.8" stroke="#ff0000" stroke-width="0.925" stroke-linecap="square"/>
<line x1="1687.9" y1="737.8" x2="1695.3" y2="725.7" stroke="#ff0000" stroke-width="0.853" stroke-linecap="square"/>
<line x1="1695.3" y1="725.7" x2="1702.7" y2="693.0" stroke="#ff0000" stroke-width="0.975" stroke-linecap="square"/>
<line x1="1702.7" y1="693.0" x2="1710.1" y2="715.9" stroke="#ff0000" stroke-width="0.952" stroke-linecap="square"/>
<line x1="1710.1" y1="715.9" x2="1717.5" y2="743.0" stroke="#ff0000" stroke-width="0.965" stroke-linecap="square"/>
<line x1="1717.5" y1="743.0" x2="1724.9" y2="706.1" stroke="#ff0000" stroke-width="0.981" stroke-linecap="square"/>
<line x1="1724.9" y1="706.1" x2="1732.3" y2="695.3" stroke="#ff0000" stroke-width="0.825" stroke-linecap="square"/>
<line x1="1732.3" y1="695.3" x2="1739.7" y2="733.9" stroke="#ff0000" stroke-width="0.982" stroke-linecap="square"/>
<line x1="1739.7" y1="733.9" x2="1747.1" y2="771.5" stroke="#ff0000" stroke-width="0.981" stroke-linecap="square"/>
<line x1="1747.1" y1="771.5" x2="1754.5" y2="765.9" stroke="#ff0000" stroke-width="0.800" stroke-linecap="square"/>
<line x1="1754.5" y1="765.9" x2="1762.1" y2="793.4" stroke="#ff0000" stroke-width="0.964" stroke-linecap="square"/>
<line x1="1762.1" y1="793.4" x2="1769.7" y2="695.3" stroke="#ff0000" stroke-width="0.997" stroke-linecap="square"/>
<g fill="#000">
<rect x="39" y="496" width="1" height="26"/>
<rect x="37" y="499" width="7" height="21"/>
<rect x="47" y="516" width="1" height="14"/>
<rect x="44" y="522" width="6" height="2"/>
<rect x="55" y="525" width="1" height="6"/>
<path d="M52 496h6v29h-6zM53 497v27h4v-27z"/>
<rect x="62" y="485" width="1" height="8"/>
<path d="M59 493h6v11h-6zM60 494v9h4v-9z"/>
<rect x="70" y="484" width="1" height="5"/>
<rect x="70" y="493" width="1" height="4"/>
<path d="M67 489h6v4h-6zM68 490v2h4v-2z"/>
<rect x="77" y="484" width="1" height="36"/>
<rect x="74" y="492" width="7" height="12"/>
<rect x="85" y="491" width="1" height="21"/>
<rect x="82" y="498" width="6" height="9"/>
<rect x="92" y="511" width="1" height="22"/>
<rect x="89" y="515" width="7" height="4"/>
<rect x="100" y="508" width="1" height="20"/>
<rect x="97" y="513" width="6" height="8"/>
<rect x="107" y="497" width="1" height="7"/>
<path d="M104 504h6v5h-6zM105 505v3h4v-3z"/>
<rect x="114" y="484" width="1" height="20"/>
<rect x="114" y="513" width="1" height="7"/>
<path d="M111 504h7v9h-7zM112 505v7h5v-7z"/>
<rect x="122" y="496" width="1" height="22"/>
<rect x="119" y="503" width="6" height="8"/>
<rect x="129" y="505" width="1" height="11"/>
<rect x="126" y="508" width="7" height="8"/>
<rect x="137" y="515" width="1" height="21"/>
<rect x="134" y="522" width="6" height="1"/>
<rect x="144" y="496" width="1" height="22"/>
<rect x="144" y="528" width="1" height="9"/>
<path d="M141 518h6v10h-6zM142 519v8h4v-8z"/>
<rect x="151" y="496" width="1" height="26"/>
<rect x="148" y="505" width="7" height="17"/>
<rect x="159" y="496" width="1" height="5"/>
<rect x="159" y="515" width="1" height="5"/>
<path d="M156 501h6v14h-6zM157 502v12h4v-12z"/>
<rect x="166" y="490" width="1" height="4"/>
<rect x="166" y="502" width="1" height="2"/>
<path d="M163 494h7v8h-7zM164 495v6h5v-6z"/>
<rect x="174" y="439" width="1" height="8"/>
<rect x="174" y="464" width="1" height="4"/>
<path d="M171 447h6v17h-6zM172 448v15h4v-15z"/>
<rect x="181" y="408" width="1" height="9"/>
<path d="M178 417h6v14h-6zM179 418v12h4v-12z"/>
<rect x="188" y="417" width="1" height="14"/>
<rect x="185" y="423" width="7" height="1"/>
<rect x="196" y="405" width="1" height="5"/>
<rect x="196" y="428" width="1" height="6"/>
<path d="M193 410h6v18h-6zM194 411v16h4v-16z"/>
<rect x="203" y="394" width="1" height="22"/>
<rect x="200" y="395" width="7" height="11"/>
<rect x="211" y="410" width="1" height="19"/>
<rect x="208" y="416" width="6" height="8"/>
<rect x="218" y="418" width="1" height="6"/>
<rect x="218" y="431" width="1" height="3"/>
<path d="M215 424h6v7h-6zM216 425v5h4v-5z"/>
<rect x="226" y="417" width="1" height="7"/>
<rect x="226" y="442" width="1" height="6"/>
<path d="M223 424h6v18h-6zM224 425v16h4v-16z"/>
<rect x="233" y="420" width="1" height="25"/>
<rect x="230" y="423" width="7" height="17"/>
<rect x="241" y="446" width="1" height="4"/>
<rect x="241" y="462" width="1" height="3"/>
<path d="M238 450h6v12h-6zM239 451v10h4v-10z"/>
<rect x="248" y="462" width="1" height="1"/>
<path d="M245 443h7v19h-7zM246 444v17h5v-17z"/>
<rect x="256" y="440" width="1" height="15"/>
<rect x="253" y="446" width="6" height="6"/>
<rect x="263" y="450" width="1" height="6"/>
<path d="M260 433h6v17h-6zM261 434v15h4v-15z"/>
<rect x="270" y="421" width="1" height="10"/>
<rect x="270" y="434" width="1" height="2"/>
<path d="M267 431h6v3h-6zM268 432v1h4v-1z"/>
<rect x="278" y="421" width="1" height="34"/>
<rect x="275" y="425" width="6" height="8"/>
<rect x="285" y="431" width="1" height="33"/>
<rect x="282" y="435" width="7" height="29"/>
<rect x="293" y="419" width="1" height="6"/>
<rect x="293" y="461" width="1" height="1"/>
<path d="M290 425h6v36h-6zM291 426v34h4v-34z"/>
<rect x="300" y="425" width="1" height="3"/>
<path d="M297 400h7v25h-7zM298 401v23h5v-23z"/>
<rect x="308" y="398" width="1" height="28"/>
<rect x="305" y="407" width="6" height="3"/>
<rect x="315" y="390" width="1" height="4"/>
<rect x="315" y="417" width="1" height="7"/>
<path d="M312 394h7v23h-7zM313 395v21h5v-21z"/>
<rect x="323" y="375" width="1" height="15"/>
<rect x="323" y="393" width="1" height="3"/>
<path d="M320 390h6v3h-6zM321 391v1h4v-1z"/>
<rect x="330" y="372" width="1" height="12"/>
<path d="M327 384h6v12h-6zM328 385v10h4v-10z"/>
<rect x="337" y="375" width="1" height="11"/>
<rect x="337" y="399" width="1" height="1"/>
<path d="M334 386h7v13h-7zM335 387v11h5v-11z"/>
<rect x="345" y="379" width="1" height="4"/>
<rect x="345" y="386" width="1" height="17"/>
<path d="M342 383h6v3h-6zM343 384v1h4v-1z"/>
<rect x="352" y="281" width="1" height="46"/>
<rect x="349" y="310" width="7" height="7"/>
<rect x="360" y="296" width="1" height="8"/>
<rect x="360" y="323" width="1" height="12"/>
<path d="M357 304h6v19h-6zM358 305v17h4v-17z"/>
<rect x="367" y="292" width="1" height="9"/>
<rect x="367" y="304" width="1" height="7"/>
<path d="M364 301h6v3h-6zM365 302v1h4v-1z"/>
<rect x="375" y="287" width="1" height="2"/>
<rect x="375" y="304" width="1" height="4"/>
<path d="M372 289h6v15h-6zM373 290v13h4v-13z"/>
<rect x="382" y="277" width="1" height="7"/>
<rect x="382" y="293" width="1" height="3"/>
<path d="M379 284h7v9h-7zM380 285v7h5v-7z"/>
<rect x="390" y="262" width="1" height="2"/>
<path d="M387 264h6v24h-6zM388 265v22h4v-22z"/>
<rect x="397" y="200" width="1" height="34"/>
<rect x="394" y="215" width="7" height="14"/>
<rect x="405" y="222" width="1" height="3"/>
<rect x="405" y="242" width="1" height="1"/>
<path d="M402 225h6v17h-6zM403 226v15h4v-15z"/>
<rect x="412" y="206" width="1" height="26"/>
<rect x="409" y="222" width="7" height="10"/>
<rect x="420" y="255" width="1" height="15"/>
<path d="M417 238h6v17h-6zM418 239v15h4v-15z"/>
<rect x="427" y="228" width="1" height="20"/>
<rect x="424" y="234" width="7" height="1"/>
<rect x="435" y="210" width="1" height="19"/>
<path d="M432 229h6v5h-6zM433 230v3h4v-3z"/>
<rect x="442" y="233" width="1" height="2"/>
<rect x="442" y="258" width="1" height="3"/>
<path d="M439 235h6v23h-6zM440 236v21h4v-21z"/>
<rect x="450" y="226" width="1" height="3"/>
<rect x="450" y="234" width="1" height="13"/>
<path d="M447 229h6v5h-6zM448 230v3h4v-3z"/>
<rect x="457" y="234" width="1" height="14"/>
<rect x="454" y="238" width="7" height="1"/>
<rect x="465" y="208" width="1" height="7"/>
<rect x="465" y="233" width="1" height="11"/>
<path d="M462 215h6v18h-6zM463 216v16h4v-16z"/>
<rect x="472" y="218" width="1" height="26"/>
<rect x="469" y="218" width="7" height="26"/>
<rect x="480" y="234" width="1" height="4"/>
<rect x="480" y="243" width="1" height="3"/>
<path d="M477 238h6v5h-6zM478 239v3h4v-3z"/>
<rect x="487" y="235" width="1" height="4"/>
<path d="M484 209h7v26h-7zM485 210v24h5v-24z"/>
<rect x="495" y="194" width="1" height="36"/>
<rect x="492" y="206" width="6" height="5"/>
<rect x="502" y="195" width="1" height="5"/>
<path d="M499 93h7v102h-7zM500 94v100h5v-100z"/>
<rect x="510" y="49" width="1" height="80"/>
<rect x="507" y="59" width="6" height="50"/>
<rect x="517" y="105" width="1" height="40"/>
<rect x="514" y="107" width="6" height="37"/>
<rect x="524" y="129" width="1" height="4"/>
<rect x="524" y="138" width="1" height="14"/>
<path d="M521 133h7v5h-7zM522 134v3h5v-3z"/>
<rect x="532" y="125" width="1" height="24"/>
<rect x="529" y="135" width="6" height="3"/>
<rect x="539" y="121" width="1" height="8"/>
<rect x="539" y="140" width="1" height="7"/>
<path d="M536 129h7v11h-7zM537 130v9h5v-9z"/>
<rect x="547" y="95" width="1" height="5"/>
<path d="M544 100h6v22h-6zM545 101v20h4v-20z"/>
<rect x="554" y="97" width="1" height="39"/>
<rect x="551" y="101" width="6" height="31"/>
<rect x="561" y="139" width="1" height="32"/>
<rect x="558" y="156" width="7" height="11"/>
<rect x="569" y="136" width="1" height="19"/>
<rect x="569" y="159" width="1" height="8"/>
<path d="M566 155h6v4h-6zM567 156v2h4v-2z"/>
<rect x="576" y="143" width="1" height="5"/>
<rect x="576" y="174" width="1" height="3"/>
<path d="M573 148h7v26h-7zM574 149v24h5v-24z"/>
<rect x="584" y="129" width="1" height="5"/>
<rect x="584" y="169" width="1" height="1"/>
<path d="M581 134h6v35h-6zM582 135v33h4v-33z"/>
<rect x="591" y="125" width="1" height="26"/>
<rect x="588" y="142" width="6" height="2"/>
<rect x="599" y="140" width="1" height="34"/>
<rect x="596" y="144" width="6" height="23"/>
<rect x="606" y="156" width="1" height="35"/>
<rect x="603" y="162" width="7" height="17"/>
<rect x="614" y="166" width="1" height="32"/>
<rect x="611" y="166" width="6" height="24"/>
<rect x="621" y="206" width="1" height="26"/>
<rect x="618" y="208" width="7" height="8"/>
<rect x="629" y="197" width="1" height="4"/>
<rect x="629" y="207" width="1" height="10"/>
<path d="M626 201h6v6h-6zM627 202v4h4v-4z"/>
<rect x="636" y="195" width="1" height="43"/>
<rect x="633" y="196" width="7" height="25"/>
<rect x="644" y="207" width="1" height="33"/>
<rect x="641" y="212" width="6" height="6"/>
<rect x="651" y="210" width="1" height="49"/>
<rect x="648" y="227" width="7" height="25"/>
<rect x="659" y="208" width="1" height="19"/>
<rect x="659" y="254" width="1" height="3"/>
<path d="M656 227h6v27h-6zM657 228v25h4v-25z"/>
<rect x="666" y="227" width="1" height="18"/>
<rect x="663" y="227" width="6" height="10"/>
<rect x="673" y="218" width="1" height="10"/>
<rect x="673" y="231" width="1" height="4"/>
<path d="M670 228h7v3h-7zM671 229v1h5v-1z"/>
<rect x="681" y="215" width="1" height="10"/>
<rect x="681" y="238" width="1" height="13"/>
<path d="M678 225h6v13h-6zM679 226v11h4v-11z"/>
<rect x="688" y="218" width="1" height="18"/>
<rect x="685" y="226" width="7" height="2"/>
<rect x="696" y="234" width="1" height="10"/>
<rect x="696" y="248" width="1" height="5"/>
<path d="M693 244h6v4h-6zM694 245v2h4v-2z"/>
<rect x="703" y="231" width="1" height="43"/>
<rect x="700" y="235" width="6" height="19"/>
<rect x="710" y="248" width="1" height="18"/>
<rect x="707" y="255" width="7" height="10"/>
<rect x="718" y="261" width="1" height="24"/>
<rect x="715" y="262" width="6" height="19"/>
<rect x="725" y="270" width="1" height="10"/>
<rect x="725" y="291" width="1" height="9"/>
<path d="M722 280h7v11h-7zM723 281v9h5v-9z"/>
<rect x="733" y="288" width="1" height="36"/>
<rect x="730" y="294" width="6" height="21"/>
<rect x="740" y="312" width="1" height="9"/>
<rect x="740" y="327" width="1" height="9"/>
<path d="M737 321h6v6h-6zM738 322v4h4v-4z"/>
<rect x="747" y="300" width="1" height="5"/>
<rect x="747" y="310" width="1" height="12"/>
<path d="M744 305h7v5h-7zM745 306v3h5v-3z"/>
<rect x="755" y="301" width="1" height="21"/>
<rect x="752" y="305" width="6" height="1"/>
<rect x="762" y="318" width="1" height="38"/>
<rect x="759" y="335" width="7" height="16"/>
<rect x="770" y="348" width="1" height="60"/>
<rect x="767" y="352" width="6" height="44"/>
<rect x="777" y="411" width="1" height="92"/>
<rect x="774" y="463" width="6" height="6"/>
<rect x="785" y="412" width="1" height="12"/>
<rect x="785" y="457" width="1" height="9"/>
<path d="M782 424h6v33h-6zM783 425v31h4v-31z"/>
<rect x="792" y="421" width="1" height="21"/>
<rect x="792" y="461" width="1" height="7"/>
<path d="M789 442h7v19h-7zM790 443v17h5v-17z"/>
<rect x="800" y="342" width="1" height="63"/>
<rect x="797" y="343" width="6" height="56"/>
<rect x="807" y="382" width="1" height="32"/>
<rect x="804" y="385" width="7" height="8"/>
<rect x="815" y="352" width="1" height="6"/>
<rect x="815" y="368" width="1" height="15"/>
<path d="M812 358h6v10h-6zM813 359v8h4v-8z"/>
<rect x="823" y="382" width="1" height="13"/>
<path d="M820 358h6v24h-6zM821 359v22h4v-22z"/>
<rect x="830" y="365" width="1" height="18"/>
<path d="M827 351h6v14h-6zM828 352v12h4v-12z"/>
<rect x="838" y="361" width="1" height="27"/>
<rect x="835" y="378" width="6" height="1"/>
<rect x="845" y="368" width="1" height="32"/>
<rect x="842" y="369" width="6" height="6"/>
<rect x="852" y="335" width="1" height="38"/>
<rect x="849" y="362" width="7" height="1"/>
<rect x="860" y="362" width="1" height="8"/>
<rect x="860" y="381" width="1" height="6"/>
<path d="M857 370h6v11h-6zM858 371v9h4v-9z"/>
<rect x="867" y="347" width="1" height="11"/>
<rect x="867" y="361" width="1" height="9"/>
<path d="M864 358h6v3h-6zM865 359v1h4v-1z"/>
<rect x="874" y="341" width="1" height="22"/>
<rect x="871" y="352" width="6" height="9"/>
<rect x="882" y="351" width="1" height="25"/>
<rect x="879" y="356" width="6" height="18"/>
<rect x="890" y="361" width="1" height="26"/>
<rect x="887" y="366" width="6" height="6"/>
<rect x="897" y="347" width="1" height="9"/>
<rect x="897" y="359" width="1" height="12"/>
<path d="M894 356h7v3h-7zM895 357v1h5v-1z"/>
<rect x="905" y="340" width="1" height="6"/>
<rect x="905" y="351" width="1" height="7"/>
<path d="M902 346h6v5h-6zM903 347v3h4v-3z"/>
<rect x="912" y="340" width="1" height="19"/>
<rect x="909" y="347" width="7" height="2"/>
<rect x="920" y="343" width="1" height="21"/>
<rect x="917" y="348" width="6" height="10"/>
<rect x="927" y="348" width="1" height="23"/>
<rect x="924" y="350" width="7" height="15"/>
<rect x="935" y="351" width="1" height="19"/>
<rect x="932" y="355" width="6" height="10"/>
<rect x="942" y="299" width="1" height="11"/>
<rect x="942" y="347" width="1" height="4"/>
<path d="M939 310h6v37h-6zM940 311v35h4v-35z"/>
<rect x="949" y="287" width="1" height="5"/>
<rect x="949" y="310" width="1" height="3"/>
<path d="M946 292h7v18h-7zM947 293v16h5v-16z"/>
<rect x="957" y="276" width="1" height="30"/>
<rect x="954" y="287" width="6" height="2"/>
<rect x="964" y="289" width="1" height="11"/>
<path d="M961 285h7v4h-7zM962 286v2h5v-2z"/>
<rect x="972" y="276" width="1" height="4"/>
<rect x="972" y="285" width="1" height="10"/>
<path d="M969 280h6v5h-6zM970 281v3h4v-3z"/>
<rect x="979" y="312" width="1" height="40"/>
<rect x="976" y="318" width="6" height="12"/>
<rect x="986" y="306" width="1" height="1"/>
<rect x="986" y="328" width="1" height="13"/>
<path d="M983 307h7v21h-7zM984 308v19h5v-19z"/>
<rect x="994" y="309" width="1" height="21"/>
<rect x="991" y="318" width="6" height="2"/>
<rect x="1001" y="318" width="1" height="43"/>
<rect x="998" y="333" width="7" height="25"/>
<rect x="1009" y="350" width="1" height="49"/>
<rect x="1006" y="352" width="6" height="18"/>
<rect x="1016" y="352" width="1" height="15"/>
<rect x="1013" y="353" width="6" height="9"/>
<rect x="1023" y="365" width="1" height="9"/>
<path d="M1020 347h7v18h-7zM1021 348v16h5v-16z"/>
<rect x="1031" y="345" width="1" height="11"/>
<rect x="1028" y="352" width="6" height="4"/>
<rect x="1038" y="318" width="1" height="37"/>
<rect x="1035" y="341" width="7" height="11"/>
<rect x="1046" y="338" width="1" height="20"/>
<rect x="1043" y="352" width="6" height="2"/>
<rect x="1053" y="362" width="1" height="18"/>
<path d="M1050 358h6v4h-6zM1051 359v2h4v-2z"/>
<rect x="1061" y="352" width="1" height="14"/>
<rect x="1058" y="353" width="6" height="5"/>
<rect x="1068" y="345" width="1" height="14"/>
<rect x="1065" y="352" width="7" height="2"/>
<rect x="1076" y="343" width="1" height="43"/>
<rect x="1073" y="348" width="6" height="37"/>
<rect x="1083" y="370" width="1" height="3"/>
<rect x="1083" y="390" width="1" height="2"/>
<path d="M1080 373h7v17h-7zM1081 374v15h5v-15z"/>
<rect x="1091" y="363" width="1" height="17"/>
<rect x="1088" y="375" width="6" height="3"/>
<rect x="1098" y="381" width="1" height="7"/>
<path d="M1095 371h7v10h-7zM1096 372v8h5v-8z"/>
<rect x="1106" y="369" width="1" height="17"/>
<rect x="1103" y="374" width="6" height="9"/>
<rect x="1113" y="399" width="1" height="16"/>
<rect x="1110" y="401" width="7" height="9"/>
<rect x="1121" y="427" width="1" height="14"/>
<rect x="1118" y="435" width="6" height="2"/>
<rect x="1128" y="423" width="1" height="3"/>
<path d="M1125 426h6v11h-6zM1126 427v9h4v-9z"/>
<rect x="1135" y="419" width="1" height="5"/>
<rect x="1135" y="433" width="1" height="3"/>
<path d="M1132 424h7v9h-7zM1133 425v7h5v-7z"/>
<rect x="1143" y="422" width="1" height="22"/>
<rect x="1140" y="428" width="6" height="15"/>
<rect x="1150" y="454" width="1" height="23"/>
<rect x="1147" y="457" width="7" height="20"/>
<rect x="1158" y="469" width="1" height="15"/>
<rect x="1155" y="470" width="6" height="2"/>
<rect x="1165" y="472" width="1" height="23"/>
<rect x="1162" y="485" width="6" height="5"/>
<rect x="1172" y="460" width="1" height="24"/>
<rect x="1169" y="462" width="7" height="17"/>
<rect x="1180" y="477" width="1" height="12"/>
<rect x="1177" y="480" width="6" height="7"/>
<rect x="1187" y="483" width="1" height="27"/>
<rect x="1184" y="483" width="7" height="23"/>
<rect x="1195" y="483" width="1" height="10"/>
<rect x="1195" y="499" width="1" height="4"/>
<path d="M1192 493h6v6h-6zM1193 494v4h4v-4z"/>
<rect x="1202" y="473" width="1" height="11"/>
<rect x="1202" y="494" width="1" height="13"/>
<path d="M1199 484h6v10h-6zM1200 485v8h4v-8z"/>
<rect x="1210" y="458" width="1" height="5"/>
<rect x="1210" y="484" width="1" height="6"/>
<path d="M1207 463h6v21h-6zM1208 464v19h4v-19z"/>
<rect x="1217" y="419" width="1" height="3"/>
<rect x="1217" y="456" width="1" height="11"/>
<path d="M1214 422h7v34h-7zM1215 423v32h5v-32z"/>
<rect x="1225" y="414" width="1" height="26"/>
<rect x="1222" y="416" width="6" height="14"/>
<rect x="1232" y="428" width="1" height="15"/>
<rect x="1229" y="433" width="7" height="2"/>
<rect x="1240" y="416" width="1" height="6"/>
<rect x="1240" y="431" width="1" height="10"/>
<path d="M1237 422h6v9h-6zM1238 423v7h4v-7z"/>
<rect x="1247" y="416" width="1" height="1"/>
<rect x="1247" y="420" width="1" height="12"/>
<path d="M1244 417h7v3h-7zM1245 418v1h5v-1z"/>
<rect x="1255" y="419" width="1" height="19"/>
<rect x="1252" y="419" width="6" height="7"/>
<rect x="1262" y="407" width="1" height="6"/>
<rect x="1262" y="421" width="1" height="7"/>
<path d="M1259 413h7v8h-7zM1260 414v6h5v-6z"/>
<rect x="1270" y="423" width="1" height="22"/>
<rect x="1267" y="424" width="6" height="8"/>
<rect x="1277" y="443" width="1" height="13"/>
<rect x="1274" y="444" width="6" height="1"/>
<rect x="1284" y="431" width="1" height="10"/>
<rect x="1284" y="444" width="1" height="1"/>
<path d="M1281 441h7v3h-7zM1282 442v1h5v-1z"/>
<rect x="1292" y="431" width="1" height="12"/>
<rect x="1292" y="446" width="1" height="3"/>
<path d="M1289 443h6v3h-6zM1290 444v1h4v-1z"/>
<rect x="1299" y="437" width="1" height="21"/>
<rect x="1296" y="439" width="7" height="15"/>
<rect x="1307" y="426" width="1" height="18"/>
<rect x="1307" y="447" width="1" height="7"/>
<path d="M1304 444h6v3h-6zM1305 445v1h4v-1z"/>
<rect x="1314" y="440" width="1" height="27"/>
<rect x="1311" y="444" width="6" height="11"/>
<rect x="1322" y="437" width="1" height="14"/>
<rect x="1322" y="454" width="1" height="5"/>
<path d="M1319 451h6v3h-6zM1320 452v1h4v-1z"/>
<rect x="1329" y="430" width="1" height="24"/>
<rect x="1326" y="433" width="7" height="5"/>
<rect x="1337" y="462" width="1" height="35"/>
<rect x="1334" y="494" width="6" height="3"/>
<rect x="1344" y="468" width="1" height="1"/>
<rect x="1344" y="499" width="1" height="9"/>
<path d="M1341 469h7v30h-7zM1342 470v28h5v-28z"/>
<rect x="1352" y="454" width="1" height="34"/>
<rect x="1349" y="454" width="6" height="34"/>
<rect x="1359" y="481" width="1" height="18"/>
<rect x="1356" y="490" width="7" height="9"/>
<rect x="1367" y="484" width="1" height="5"/>
<rect x="1367" y="499" width="1" height="1"/>
<path d="M1364 489h6v10h-6zM1365 490v8h4v-8z"/>
<rect x="1374" y="486" width="1" height="25"/>
<rect x="1371" y="487" width="7" height="24"/>
<rect x="1382" y="510" width="1" height="3"/>
<rect x="1382" y="516" width="1" height="10"/>
<path d="M1379 513h6v3h-6zM1380 514v1h4v-1z"/>
<rect x="1389" y="504" width="1" height="7"/>
<rect x="1389" y="514" width="1" height="5"/>
<path d="M1386 511h6v3h-6zM1387 512v1h4v-1z"/>
<rect x="1396" y="504" width="1" height="16"/>
<rect x="1393" y="506" width="7" height="6"/>
<rect x="1404" y="507" width="1" height="18"/>
<rect x="1401" y="510" width="6" height="7"/>
<rect x="1411" y="500" width="1" height="20"/>
<rect x="1408" y="513" width="7" height="3"/>
<rect x="1419" y="502" width="1" height="15"/>
<rect x="1416" y="510" width="6" height="1"/>
<rect x="1426" y="501" width="1" height="29"/>
<rect x="1423" y="504" width="6" height="26"/>
<rect x="1434" y="520" width="1" height="21"/>
<rect x="1431" y="525" width="6" height="2"/>
<rect x="1441" y="518" width="1" height="3"/>
<rect x="1441" y="524" width="1" height="5"/>
<path d="M1438 521h6v3h-6zM1439 522v1h4v-1z"/>
<rect x="1449" y="515" width="1" height="11"/>
<rect x="1446" y="515" width="6" height="10"/>
<rect x="1456" y="510" width="1" height="20"/>
<rect x="1453" y="510" width="6" height="19"/>
<rect x="1463" y="483" width="1" height="1"/>
<rect x="1463" y="528" width="1" height="1"/>
<path d="M1460 484h7v44h-7zM1461 485v42h5v-42z"/>
<rect x="1471" y="486" width="1" height="13"/>
<rect x="1468" y="489" width="6" height="3"/>
<rect x="1478" y="494" width="1" height="12"/>
<rect x="1475" y="495" width="7" height="6"/>
<rect x="1486" y="481" width="1" height="8"/>
<path d="M1483 489h6v20h-6zM1484 490v18h4v-18z"/>
<rect x="1493" y="484" width="1" height="11"/>
<rect x="1490" y="489" width="6" height="4"/>
<rect x="1500" y="474" width="1" height="16"/>
<path d="M1497 490h7v9h-7zM1498 491v7h5v-7z"/>
<rect x="1508" y="450" width="1" height="17"/>
<path d="M1505 467h6v23h-6zM1506 468v21h4v-21z"/>
<rect x="1515" y="424" width="1" height="15"/>
<rect x="1515" y="463" width="1" height="2"/>
<path d="M1512 439h7v24h-7zM1513 440v22h5v-22z"/>
<rect x="1523" y="435" width="1" height="23"/>
<rect x="1520" y="447" width="6" height="11"/>
<rect x="1530" y="450" width="1" height="16"/>
<rect x="1527" y="456" width="6" height="8"/>
<rect x="1538" y="441" width="1" height="33"/>
<rect x="1535" y="462" width="6" height="12"/>
<rect x="1545" y="448" width="1" height="20"/>
<rect x="1542" y="463" width="7" height="3"/>
<rect x="1553" y="460" width="1" height="26"/>
<rect x="1550" y="463" width="6" height="23"/>
<rect x="1560" y="487" width="1" height="33"/>
<rect x="1557" y="487" width="7" height="22"/>
<rect x="1568" y="506" width="1" height="11"/>
<rect x="1565" y="506" width="6" height="7"/>
<rect x="1575" y="494" width="1" height="5"/>
<rect x="1575" y="512" width="1" height="2"/>
<path d="M1572 499h7v13h-7zM1573 500v11h5v-11z"/>
<rect x="1583" y="476" width="1" height="3"/>
<rect x="1583" y="501" width="1" height="3"/>
<path d="M1580 479h6v22h-6zM1581 480v20h4v-20z"/>
<rect x="1590" y="461" width="1" height="5"/>
<rect x="1590" y="481" width="1" height="5"/>
<path d="M1587 466h7v15h-7zM1588 467v13h5v-13z"/>
<rect x="1598" y="450" width="1" height="15"/>
<rect x="1598" y="468" width="1" height="4"/>
<path d="M1595 465h6v3h-6zM1596 466v1h4v-1z"/>
<rect x="1605" y="424" width="1" height="7"/>
<rect x="1605" y="457" width="1" height="2"/>
<path d="M1602 431h6v26h-6zM1603 432v24h4v-24z"/>
<rect x="1613" y="430" width="1" height="34"/>
<rect x="1610" y="432" width="6" height="32"/>
<rect x="1620" y="460" width="1" height="1"/>
<rect x="1620" y="464" width="1" height="18"/>
<path d="M1617 461h7v3h-7zM1618 462v1h5v-1z"/>
<rect x="1628" y="420" width="1" height="16"/>
<rect x="1628" y="460" width="1" height="8"/>
<path d="M1625 436h6v24h-6zM1626 437v22h4v-22z"/>
<rect x="1635" y="433" width="1" height="15"/>
<rect x="1632" y="444" width="7" height="3"/>
<rect x="1643" y="441" width="1" height="1"/>
<rect x="1643" y="450" width="1" height="12"/>
<path d="M1640 442h6v8h-6zM1641 443v6h4v-6z"/>
<rect x="1650" y="403" width="1" height="15"/>
<rect x="1650" y="445" width="1" height="3"/>
<path d="M1647 418h7v27h-7zM1648 419v25h5v-25z"/>
<rect x="1658" y="419" width="1" height="26"/>
<rect x="1655" y="421" width="6" height="23"/>
<rect x="1665" y="450" width="1" height="26"/>
<rect x="1662" y="451" width="7" height="23"/>
<rect x="1673" y="465" width="1" height="16"/>
<rect x="1670" y="476" width="6" height="1"/>
<rect x="1680" y="474" width="1" height="5"/>
<path d="M1677 442h6v32h-6zM1678 443v30h4v-30z"/>
<rect x="1687" y="430" width="1" height="29"/>
<rect x="1684" y="444" width="7" height="10"/>
<rect x="1695" y="458" width="1" height="11"/>
<path d="M1692 446h6v12h-6zM1693 447v10h4v-10z"/>
<rect x="1702" y="408" width="1" height="14"/>
<rect x="1702" y="433" width="1" height="1"/>
<path d="M1699 422h7v11h-7zM1700 423v9h5v-9z"/>
<rect x="1710" y="417" width="1" height="19"/>
<rect x="1707" y="423" width="6" height="9"/>
<rect x="1717" y="419" width="1" height="27"/>
<rect x="1714" y="434" width="6" height="12"/>
<rect x="1724" y="418" width="1" height="6"/>
<rect x="1724" y="445" width="1" height="3"/>
<path d="M1721 424h7v21h-7zM1722 425v19h5v-19z"/>
<rect x="1732" y="408" width="1" height="6"/>
<rect x="1732" y="424" width="1" height="4"/>
<path d="M1729 414h6v10h-6zM1730 415v8h4v-8z"/>
<rect x="1739" y="406" width="1" height="35"/>
<rect x="1736" y="408" width="7" height="27"/>
<rect x="1747" y="424" width="1" height="36"/>
<rect x="1744" y="437" width="6" height="21"/>
<rect x="1754" y="440" width="1" height="21"/>
<rect x="1751" y="454" width="6" height="1"/>
<rect x="1762" y="461" width="1" height="33"/>
<rect x="1759" y="462" width="6" height="16"/>
<rect x="1769" y="385" width="1" height="19"/>
<rect x="1769" y="413" width="1" height="9"/>
<path d="M1766 404h7v9h-7zM1767 405v7h5v-7z"/>
</g>
<line x1="35" y1="55.5" x2="1855" y2="55.5" stroke="#ff0000" stroke-width="1"/>
<line x1="35" y1="217.5" x2="1855" y2="217.5" stroke="#000" stroke-width="1"/>
<line x1="35" y1="257.5" x2="1855" y2="257.5" stroke="#ff0000" stroke-width="1"/>
<line x1="35" y1="328.5" x2="1855" y2="328.5" stroke="#000" stroke-width="1"/>
<line x1="35" y1="537.5" x2="1855" y2="537.5" stroke="#069006" stroke-width="1"/>
<line x1="35" y1="578.5" x2="1855" y2="578.5" stroke="#000" stroke-width="1"/>
<line x1="35" y1="589.5" x2="1855" y2="589.5" stroke="#000" stroke-width="1"/>
<line x1="711" y1="413.5" x2="1855" y2="413.5" stroke="#000" stroke-width="1"/>
<line x1="1091" y1="455.5" x2="1345" y2="455.5" stroke="#3cb371" stroke-width="1"/>
<line x1="1300" y1="504.5" x2="1449" y2="504.5" stroke="#000" stroke-width="1"/>
<line x1="35" y1="632.5" x2="1855" y2="632.5" stroke="#0000ff" stroke-width="1"/>
<line x1="35" y1="830.5" x2="1855" y2="830.5" stroke="#0000ff" stroke-width="1"/>
<line x1="136.7" y1="539.0" x2="726.0" y2="252.5" stroke="#069006" stroke-width="0.899" />
<line x1="501.0" y1="44.9" x2="1598.0" y2="567.4" stroke="#6262ba" stroke-width="0.903" />
<line x1="1196.4" y1="512.5" x2="1352.0" y2="408.8" stroke="#1414e6" stroke-width="0.832" stroke-dasharray="21 8"/>
<line x1="1426.7" y1="538.1" x2="1838.0" y2="484.5" stroke="#000" stroke-width="0.992" />
<line x1="1449.1" y1="545.6" x2="1568.1" y2="455.0" stroke="#000" stroke-width="0.796" />
<line x1="1568.1" y1="518.2" x2="1687.6" y2="437.6" stroke="#000" stroke-width="0.829" />
<ellipse cx="360" cy="349" rx="82" ry="39" fill="none" stroke="#800080" stroke-width="1"/>
<ellipse cx="778" cy="458.3" rx="52" ry="48" fill="none" stroke="#3cb371" stroke-width="1"/>
<g stroke="#000" stroke-width="1">
<line x1="35.5" y1="0" x2="35.5" y2="881"/>
<line x1="1855.5" y1="0" x2="1855.5" y2="881"/>
<line x1="35" y1="880.5" x2="1856" y2="880.5"/>
<line x1="35" y1="891.5" x2="1855" y2="891.5"/>
<line x1="30" y1="578.5" x2="35" y2="578.5"/>
<line x1="1856" y1="578.5" x2="1861" y2="578.5"/>
<line x1="33" y1="576.5" x2="35" y2="576.5"/>
<line x1="1856" y1="576.5" x2="1858" y2="576.5"/>
<line x1="33" y1="574.5" x2="35" y2="574.5"/>
<line x1="1856" y1="574.5" x2="1858" y2="574.5"/>
<line x1="33" y1="572.5" x2="35" y2="572.5"/>
<line x1="1856" y1="572.5" x2="1858" y2="572.5"/>
<line x1="33" y1="570.5" x2="35" y2="570.5"/>
<line x1="1856" y1="570.5" x2="1858" y2="570.5"/>
<line x1="30" y1="568.5" x2="35" y2="568.5"/>
<line x1="1856" y1="568.5" x2="1861" y2="568.5"/>
<line x1="33" y1="566.5" x2="35" y2="566.5"/>
<line x1="1856" y1="566.5" x2="1858" y2="566.5"/>
<line x1="33" y1="564.5" x2="35" y2="564.5"/>
<line x1="1856" y1="564.5" x2="1858" y2="564.5"/>
<line x1="33" y1="563.5" x2="35" y2="563.5"/>
<line x1="1856" y1="563.5" x2="1858" y2="563.5"/>
<line x1="33" y1="561.5" x2="35" y2="561.5"/>
<line x1="1856" y1="561.5" x2="1858" y2="561.5"/>
<line x1="30" y1="559.5" x2="35" y2="559.5"/>
<line x1="1856" y1="559.5" x2="1861" y2="559.5"/>
<line x1="33" y1="557.5" x2="35" y2="557.5"/>
<line x1="1856" y1="557.5" x2="1858" y2="557.5"/>
<line x1="33" y1="555.5" x2="35" y2="555.5"/>
<line x1="1856" y1="555.5" x2="1858" y2="555.5"/>
<line x1="33" y1="553.5" x2="35" y2="553.5"/>
<line x1="1856" y1="553.5" x2="1858" y2="553.5"/>
<line x1="33" y1="551.5" x2="35" y2="551.5"/>
<line x1="1856" y1="551.5" x2="1858" y2="551.5"/>
<line x1="30" y1="549.5" x2="35" y2="549.5"/>
<line x1="1856" y1="549.5" x2="1861" y2="549.5"/>
<line x1="33" y1="547.5" x2="35" y2="547.5"/>
<line x1="1856" y1="547.5" x2="1858" y2="547.5"/>
<line x1="33" y1="545.5" x2="35" y2="545.5"/>
<line x1="1856" y1="545.5" x2="1858" y2="545.5"/>
<line x1="33" y1="543.5" x2="35" y2="543.5"/>
<line x1="1856" y1="543.5" x2="1858" y2="543.5"/>
<line x1="33" y1="541.5" x2="35" y2="541.5"/>
<line x1="1856" y1="541.5" x2="1858" y2="541.5"/>
<line x1="30" y1="539.5" x2="35" y2="539.5"/>
<line x1="1856" y1="539.5" x2="1861" y2="539.5"/>
<line x1="33" y1="537.5" x2="35" y2="537.5"/>
<line x1="1856" y1="537.5" x2="1858" y2="537.5"/>
<line x1="33" y1="535.5" x2="35" y2="535.5"/>
<line x1="1856" y1="535.5" x2="1858" y2="535.5"/>
<line x1="33" y1="533.5" x2="35" y2="533.5"/>
<line x1="1856" y1="533.5" x2="1858" y2="533.5"/>
<line x1="33" y1="531.5" x2="35" y2="531.5"/>
<line x1="1856" y1="531.5" x2="1858" y2="531.5"/>
<line x1="30" y1="529.5" x2="35" y2="529.5"/>
<line x1="1856" y1="529.5" x2="1861" y2="529.5"/>
<line x1="33" y1="527.5" x2="35" y2="527.5"/>
<line x1="1856" y1="527.5" x2="1858" y2="527.5"/>
<line x1="33" y1="525.5" x2="35" y2="525.5"/>
<line x1="1856" y1="525.5" x2="1858" y2="525.5"/>
<line x1="33" y1="523.5" x2="35" y2="523.5"/>
<line x1="1856" y1="523.5" x2="1858" y2="523.5"/>
<line x1="33" y1="521.5" x2="35" y2="521.5"/>
<line x1="1856" y1="521.5" x2="1858" y2="521.5"/>
<line x1="30" y1="519.5" x2="35" y2="519.5"/>
<line x1="1856" y1="519.5" x2="1861" y2="519.5"/>
<line x1="33" y1="517.5" x2="35" y2="517.5"/>
<line x1="1856" y1="517.5" x2="1858" y2="517.5"/>
<line x1="33" y1="515.5" x2="35" y2="515.5"/>
<line x1="1856" y1="515.5" x2="1858" y2="515.5"/>
<line x1="33" y1="514.5" x2="35" y2="514.5"/>
<line x1="1856" y1="514.5" x2="1858" y2="514.5"/>
<line x1="33" y1="512.5" x2="35" y2="512.5"/>
<line x1="1856" y1="512.5" x2="1858" y2="512.5"/>
<line x1="30" y1="510.5" x2="35" y2="510.5"/>
<line x1="1856" y1="510.5" x2="1861" y2="510.5"/>
<line x1="33" y1="508.5" x2="35" y2="508.5"/>
<line x1="1856" y1="508.5" x2="1858" y2="508.5"/>
<line x1="33" y1="506.5" x2="35" y2="506.5"/>
<line x1="1856" y1="506.5" x2="1858" y2="506.5"/>
<line x1="33" y1="504.5" x2="35" y2="504.5"/>
<line x1="1856" y1="504.5" x2="1858" y2="504.5"/>
<line x1="33" y1="502.5" x2="35" y2="502.5"/>
<line x1="1856" y1="502.5" x2="1858" y2="502.5"/>
<line x1="30" y1="500.5" x2="35" y2="500.5"/>
<line x1="1856" y1="500.5" x2="1861" y2="500.5"/>
<line x1="33" y1="498.5" x2="35" y2="498.5"/>
<line x1="1856" y1="498.5" x2="1858" y2="498.5"/>
<line x1="33" y1="496.5" x2="35" y2="496.5"/>
<line x1="1856" y1="496.5" x2="1858" y2="496.5"/>
<line x1="33" y1="494.5" x2="35" y2="494.5"/>
<line x1="1856" y1="494.5" x2="1858" y2="494.5"/>
<line x1="33" y1="492.5" x2="35" y2="492.5"/>
<line x1="1856" y1="492.5" x2="1858" y2="492.5"/>
<line x1="30" y1="490.5" x2="35" y2="490.5"/>
<line x1="1856" y1="490.5" x2="1861" y2="490.5"/>
<line x1="33" y1="488.5" x2="35" y2="488.5"/>
<line x1="1856" y1="488.5" x2="1858" y2="488.5"/>
<line x1="33" y1="486.5" x2="35" y2="486.5"/>
<line x1="1856" y1="486.5" x2="1858" y2="486.5"/>
<line x1="33" y1="484.5" x2="35" y2="484.5"/>
<line x1="1856" y1="484.5" x2="1858" y2="484.5"/>
<line x1="33" y1="482.5" x2="35" y2="482.5"/>
<line x1="1856" y1="482.5" x2="1858" y2="482.5"/>
<line x1="30" y1="480.5" x2="35" y2="480.5"/>
<line x1="1856" y1="480.5" x2="1861" y2="480.5"/>
<line x1="33" y1="478.5" x2="35" y2="478.5"/>
<line x1="1856" y1="478.5" x2="1858" y2="478.5"/>
<line x1="33" y1="476.5" x2="35" y2="476.5"/>
<line x1="1856" y1="476.5" x2="1858" y2="476.5"/>
<line x1="33" y1="474.5" x2="35" y2="474.5"/>
<line x1="1856" y1="474.5" x2="1858" y2="474.5"/>
<line x1="33" y1="472.5" x2="35" y2="472.5"/>
<line x1="1856" y1="472.5" x2="1858" y2="472.5"/>
<line x1="30" y1="470.5" x2="35" y2="470.5"/>
<line x1="1856" y1="470.5" x2="1861" y2="470.5"/>
<line x1="33" y1="468.5" x2="35" y2="468.5"/>
<line x1="1856" y1="468.5" x2="1858" y2="468.5"/>
<line x1="33" y1="466.5" x2="35" y2="466.5"/>
<line x1="1856" y1="466.5" x2="1858" y2="466.5"/>
<line x1="33" y1="465.5" x2="35" y2="465.5"/>
<line x1="1856" y1="465.5" x2="1858" y2="465.5"/>
<line x1="33" y1="463.5" x2="35" y2="463.5"/>
<line x1="1856" y1="463.5" x2="1858" y2="463.5"/>
<line x1="30" y1="461.5" x2="35" y2="461.5"/>
<line x1="1856" y1="461.5" x2="1861" y2="461.5"/>
<line x1="33" y1="459.5" x2="35" y2="459.5"/>
<line x1="1856" y1="459.5" x2="1858" y2="459.5"/>
<line x1="33" y1="457.5" x2="35" y2="457.5"/>
<line x1="1856" y1="457.5" x2="1858" y2="457.5"/>
<line x1="33" y1="455.5" x2="35" y2="455.5"/>
<line x1="1856" y1="455.5" x2="1858" y2="455.5"/>
<line x1="33" y1="453.5" x2="35" y2="453.5"/>
<line x1="1856" y1="453.5" x2="1858" y2="453.5"/>
<line x1="30" y1="451.5" x2="35" y2="451.5"/>
<line x1="1856" y1="451.5" x2="1861" y2="451.5"/>
<line x1="33" y1="449.5" x2="35" y2="449.5"/>
<line x1="1856" y1="449.5" x2="1858" y2="449.5"/>
<line x1="33" y1="447.5" x2="35" y2="447.5"/>
<line x1="1856" y1="447.5" x2="1858" y2="447.5"/>
<line x1="33" y1="445.5" x2="35" y2="445.5"/>
<line x1="1856" y1="445.5" x2="1858" y2="445.5"/>
<line x1="33" y1="443.5" x2="35" y2="443.5"/>
<line x1="1856" y1="443.5" x2="1858" y2="443.5"/>
<line x1="30" y1="441.5" x2="35" y2="441.5"/>
<line x1="1856" y1="441.5" x2="1861" y2="441.5"/>
<line x1="33" y1="439.5" x2="35" y2="439.5"/>
<line x1="1856" y1="439.5" x2="1858" y2="439.5"/>
<line x1="33" y1="437.5" x2="35" y2="437.5"/>
<line x1="1856" y1="437.5" x2="1858" y2="437.5"/>
<line x1="33" y1="435.5" x2="35" y2="435.5"/>
<line x1="1856" y1="435.5" x2="1858" y2="435.5"/>
<line x1="33" y1="433.5" x2="35" y2="433.5"/>
<line x1="1856" y1="433.5" x2="1858" y2="433.5"/>
<line x1="30" y1="431.5" x2="35" y2="431.5"/>
<line x1="1856" y1="431.5" x2="1861" y2="431.5"/>
<line x1="33" y1="429.5" x2="35" y2="429.5"/>
<line x1="1856" y1="429.5" x2="1858" y2="429.5"/>
<line x1="33" y1="427.5" x2="35" y2="427.5"/>
<line x1="1856" y1="427.5" x2="1858" y2="427.5"/>
<line x1="33" y1="425.5" x2="35" y2="425.5"/>
<line x1="1856" y1="425.5" x2="1858" y2="425.5"/>
<line x1="33" y1="423.5" x2="35" y2="423.5"/>
<line x1="1856" y1="423.5" x2="1858" y2="423.5"/>
<line x1="30" y1="421.5" x2="35" y2="421.5"/>
<line x1="1856" y1="421.5" x2="1861" y2="421.5"/>
<line x1="33" y1="419.5" x2="35" y2="419.5"/>
<line x1="1856" y1="419.5" x2="1858" y2="419.5"/>
<line x1="33" y1="417.5" x2="35" y2="417.5"/>
<line x1="1856" y1="417.5" x2="1858" y2="417.5"/>
<line x1="33" y1="416.5" x2="35" y2="416.5"/>
<line x1="1856" y1="416.5" x2="1858" y2="416.5"/>
<line x1="33" y1="414.5" x2="35" y2="414.5"/>
<line x1="1856" y1="414.5" x2="1858" y2="414.5"/>
<line x1="30" y1="412.5" x2="35" y2="412.5"/>
<line x1="1856" y1="412.5" x2="1861" y2="412.5"/>
<line x1="33" y1="410.5" x2="35" y2="410.5"/>
<line x1="1856" y1="410.5" x2="1858" y2="410.5"/>
<line x1="33" y1="408.5" x2="35" y2="408.5"/>
<line x1="1856" y1="408.5" x2="1858" y2="408.5"/>
<line x1="33" y1="406.5" x2="35" y2="406.5"/>
<line x1="1856" y1="406.5" x2="1858" y2="406.5"/>
<line x1="33" y1="404.5" x2="35" y2="404.5"/>
<line x1="1856" y1="404.5" x2="1858" y2="404.5"/>
<line x1="30" y1="402.5" x2="35" y2="402.5"/>
<line x1="1856" y1="402.5" x2="1861" y2="402.5"/>
<line x1="33" y1="400.5" x2="35" y2="400.5"/>
<line x1="1856" y1="400.5" x2="1858" y2="400.5"/>
<line x1="33" y1="398.5" x2="35" y2="398.5"/>
<line x1="1856" y1="398.5" x2="1858" y2="398.5"/>
<line x1="33" y1="396.5" x2="35" y2="396.5"/>
<line x1="1856" y1="396.5" x2="1858" y2="396.5"/>
<line x1="33" y1="394.5" x2="35" y2="394.5"/>
<line x1="1856" y1="394.5" x2="1858" y2="394.5"/>
<line x1="30" y1="392.5" x2="35" y2="392.5"/>
<line x1="1856" y1="392.5" x2="1861" y2="392.5"/>
<line x1="33" y1="390.5" x2="35" y2="390.5"/>
<line x1="1856" y1="390.5" x2="1858" y2="390.5"/>
<line x1="33" y1="388.5" x2="35" y2="388.5"/>
<line x1="1856" y1="388.5" x2="1858" y2="388.5"/>
<line x1="33" y1="386.5" x2="35" y2="386.5"/>
<line x1="1856" y1="386.5" x2="1858" y2="386.5"/>
<line x1="33" y1="384.5" x2="35" y2="384.5"/>
<line x1="1856" y1="384.5" x2="1858" y2="384.5"/>
<line x1="30" y1="382.5" x2="35" y2="382.5"/>
<line x1="1856" y1="382.5" x2="1861" y2="382.5"/>
<line x1="33" y1="380.5" x2="35" y2="380.5"/>
<line x1="1856" y1="380.5" x2="1858" y2="380.5"/>
<line x1="33" y1="378.5" x2="35" y2="378.5"/>
<line x1="1856" y1="378.5" x2="1858" y2="378.5"/>
<line x1="33" y1="376.5" x2="35" y2="376.5"/>
<line x1="1856" y1="376.5" x2="1858" y2="376.5"/>
<line x1="33" y1="374.5" x2="35" y2="374.5"/>
<line x1="1856" y1="374.5" x2="1858" y2="374.5"/>
<line x1="30" y1="372.5" x2="35" y2="372.5"/>
<line x1="1856" y1="372.5" x2="1861" y2="372.5"/>
<line x1="33" y1="370.5" x2="35" y2="370.5"/>
<line x1="1856" y1="370.5" x2="1858" y2="370.5"/>
<line x1="33" y1="368.5" x2="35" y2="368.5"/>
<line x1="1856" y1="368.5" x2="1858" y2="368.5"/>
<line x1="33" y1="367.5" x2="35" y2="367.5"/>
<line x1="1856" y1="367.5" x2="1858" y2="367.5"/>
<line x1="33" y1="365.5" x2="35" y2="365.5"/>
<line x1="1856" y1="365.5" x2="1858" y2="365.5"/>
<line x1="30" y1="363.5" x2="35" y2="363.5"/>
<line x1="1856" y1="363.5" x2="1861" y2="363.5"/>
<line x1="33" y1="361.5" x2="35" y2="361.5"/>
<line x1="1856" y1="361.5" x2="1858" y2="361.5"/>
<line x1="33" y1="359.5" x2="35" y2="359.5"/>
<line x1="1856" y1="359.5" x2="1858" y2="359.5"/>
<line x1="33" y1="357.5" x2="35" y2="357.5"/>
<line x1="1856" y1="357.5" x2="1858" y2="357.5"/>
<line x1="33" y1="355.5" x2="35" y2="355.5"/>
<line x1="1856" y1="355.5" x2="1858" y2="355.5"/>
<line x1="30" y1="353.5" x2="35" y2="353.5"/>
<line x1="1856" y1="353.5" x2="1861" y2="353.5"/>
<line x1="33" y1="351.5" x2="35" y2="351.5"/>
<line x1="1856" y1="351.5" x2="1858" y2="351.5"/>
<line x1="33" y1="349.5" x2="35" y2="349.5"/>
<line x1="1856" y1="349.5" x2="1858" y2="349.5"/>
<line x1="33" y1="347.5" x2="35" y2="347.5"/>
<line x1="1856" y1="347.5" x2="1858" y2="347.5"/>
<line x1="33" y1="345.5" x2="35" y2="345.5"/>
<line x1="1856" y1="345.5" x2="1858" y2="345.5"/>
<line x1="30" y1="343.5" x2="35" y2="343.5"/>
<line x1="1856" y1="343.5" x2="1861" y2="343.5"/>
<line x1="33" y1="341.5" x2="35" y2="341.5"/>
<line x1="1856" y1="341.5" x2="1858" y2="341.5"/>
<line x1="33" y1="339.5" x2="35" y2="339.5"/>
<line x1="1856" y1="339.5" x2="1858" y2="339.5"/>
<line x1="33" y1="337.5" x2="35" y2="337.5"/>
<line x1="1856" y1="337.5" x2="1858" y2="337.5"/>
<line x1="33" y1="335.5" x2="35" y2="335.5"/>
<line x1="1856" y1="335.5" x2="1858" y2="335.5"/>
<line x1="30" y1="333.5" x2="35" y2="333.5"/>
<line x1="1856" y1="333.5" x2="1861" y2="333.5"/>
<line x1="33" y1="331.5" x2="35" y2="331.5"/>
<line x1="1856" y1="331.5" x2="1858" y2="331.5"/>
<line x1="33" y1="329.5" x2="35" y2="329.5"/>
<line x1="1856" y1="329.5" x2="1858" y2="329.5"/>
<line x1="33" y1="327.5" x2="35" y2="327.5"/>
<line x1="1856" y1="327.5" x2="1858" y2="327.5"/>
<line x1="33" y1="325.5" x2="35" y2="325.5"/>
<line x1="1856" y1="325.5" x2="1858" y2="325.5"/>
<line x1="30" y1="323.5" x2="35" y2="323.5"/>
<line x1="1856" y1="323.5" x2="1861" y2="323.5"/>
<line x1="33" y1="321.5" x2="35" y2="321.5"/>
<line x1="1856" y1="321.5" x2="1858" y2="321.5"/>
<line x1="33" y1="319.5" x2="35" y2="319.5"/>
<line x1="1856" y1="319.5" x2="1858" y2="319.5"/>
<line x1="33" y1="318.5" x2="35" y2="318.5"/>
<line x1="1856" y1="318.5" x2="1858" y2="318.5"/>
<line x1="33" y1="316.5" x2="35" y2="316.5"/>
<line x1="1856" y1="316.5" x2="1858" y2="316.5"/>
<line x1="30" y1="314.5" x2="35" y2="314.5"/>
<line x1="1856" y1="314.5" x2="1861" y2="314.5"/>
<line x1="33" y1="312.5" x2="35" y2="312.5"/>
<line x1="1856" y1="312.5" x2="1858" y2="312.5"/>
<line x1="33" y1="310.5" x2="35" y2="310.5"/>
<line x1="1856" y1="310.5" x2="1858" y2="310.5"/>
<line x1="33" y1="308.5" x2="35" y2="308.5"/>
<line x1="1856" y1="308.5" x2="1858" y2="308.5"/>
<line x1="33" y1="306.5" x2="35" y2="306.5"/>
<line x1="1856" y1="306.5" x2="1858" y2="306.5"/>
<line x1="30" y1="304.5" x2="35" y2="304.5"/>
<line x1="1856" y1="304.5" x2="1861" y2="304.5"/>
<line x1="33" y1="302.5" x2="35" y2="302.5"/>
<line x1="1856" y1="302.5" x2="1858" y2="302.5"/>
<line x1="33" y1="300.5" x2="35" y2="300.5"/>
<line x1="1856" y1="300.5" x2="1858" y2="300.5"/>
<line x1="33" y1="298.5" x2="35" y2="298.5"/>
<line x1="1856" y1="298.5" x2="1858" y2="298.5"/>
<line x1="33" y1="296.5" x2="35" y2="296.5"/>
<line x1="1856" y1="296.5" x2="1858" y2="296.5"/>
<line x1="30" y1="294.5" x2="35" y2="294.5"/>
<line x1="1856" y1="294.5" x2="1861" y2="294.5"/>
<line x1="33" y1="292.5" x2="35" y2="292.5"/>
<line x1="1856" y1="292.5" x2="1858" y2="292.5"/>
<line x1="33" y1="290.5" x2="35" y2="290.5"/>
<line x1="1856" y1="290.5" x2="1858" y2="290.5"/>
<line x1="33" y1="288.5" x2="35" y2="288.5"/>
<line x1="1856" y1="288.5" x2="1858" y2="288.5"/>
<line x1="33" y1="286.5" x2="35" y2="286.5"/>
<line x1="1856" y1="286.5" x2="1858" y2="286.5"/>
<line x1="30" y1="284.5" x2="35" y2="284.5"/>
<line x1="1856" y1="284.5" x2="1861" y2="284.5"/>
<line x1="33" y1="282.5" x2="35" y2="282.5"/>
<line x1="1856" y1="282.5" x2="1858" y2="282.5"/>
<line x1="33" y1="280.5" x2="35" y2="280.5"/>
<line x1="1856" y1="280.5" x2="1858" y2="280.5"/>
<line x1="33" y1="278.5" x2="35" y2="278.5"/>
<line x1="1856" y1="278.5" x2="1858" y2="278.5"/>
<line x1="33" y1="276.5" x2="35" y2="276.5"/>
<line x1="1856" y1="276.5" x2="1858" y2="276.5"/>
<line x1="30" y1="274.5" x2="35" y2="274.5"/>
<line x1="1856" y1="274.5" x2="1861" y2="274.5"/>
<line x1="33" y1="272.5" x2="35" y2="272.5"/>
<line x1="1856" y1="272.5" x2="1858" y2="272.5"/>
<line x1="33" y1="270.5" x2="35" y2="270.5"/>
<line x1="1856" y1="270.5" x2="1858" y2="270.5"/>
<line x1="33" y1="269.5" x2="35" y2="269.5"/>
<line x1="1856" y1="269.5" x2="1858" y2="269.5"/>
<line x1="33" y1="267.5" x2="35" y2="267.5"/>
<line x1="1856" y1="267.5" x2="1858" y2="267.5"/>
<line x1="30" y1="265.5" x2="35" y2="265.5"/>
<line x1="1856" y1="265.5" x2="1861" y2="265.5"/>
<line x1="33" y1="263.5" x2="35" y2="263.5"/>
<line x1="1856" y1="263.5" x2="1858" y2="263.5"/>
<line x1="33" y1="261.5" x2="35" y2="261.5"/>
<line x1="1856" y1="261.5" x2="1858" y2="261.5"/>
<line x1="33" y1="259.5" x2="35" y2="259.5"/>
<line x1="1856" y1="259.5" x2="1858" y2="259.5"/>
<line x1="33" y1="257.5" x2="35" y2="257.5"/>
<line x1="1856" y1="257.5" x2="1858" y2="257.5"/>
<line x1="30" y1="255.5" x2="35" y2="255.5"/>
<line x1="1856" y1="255.5" x2="1861" y2="255.5"/>
<line x1="33" y1="253.5" x2="35" y2="253.5"/>
<line x1="1856" y1="253.5" x2="1858" y2="253.5"/>
<line x1="33" y1="251.5" x2="35" y2="251.5"/>
<line x1="1856" y1="251.5" x2="1858" y2="251.5"/>
<line x1="33" y1="249.5" x2="35" y2="249.5"/>
<line x1="1856" y1="249.5" x2="1858" y2="249.5"/>
<line x1="33" y1="247.5" x2="35" y2="247.5"/>
<line x1="1856" y1="247.5" x2="1858" y2="247.5"/>
<line x1="30" y1="245.5" x2="35" y2="245.5"/>
<line x1="1856" y1="245.5" x2="1861" y2="245.5"/>
<line x1="33" y1="243.5" x2="35" y2="243.5"/>
<line x1="1856" y1="243.5" x2="1858" y2="243.5"/>
<line x1="33" y1="241.5" x2="35" y2="241.5"/>
<line x1="1856" y1="241.5" x2="1858" y2="241.5"/>
<line x1="33" y1="239.5" x2="35" y2="239.5"/>
<line x1="1856" y1="239.5" x2="1858" y2="239.5"/>
<line x1="33" y1="237.5" x2="35" y2="237.5"/>
<line x1="1856" y1="237.5" x2="1858" y2="237.5"/>
<line x1="30" y1="235.5" x2="35" y2="235.5"/>
<line x1="1856" y1="235.5" x2="1861" y2="235.5"/>
<line x1="33" y1="233.5" x2="35" y2="233.5"/>
<line x1="1856" y1="233.5" x2="1858" y2="233.5"/>
<line x1="33" y1="231.5" x2="35" y2="231.5"/>
<line x1="1856" y1="231.5" x2="1858" y2="231.5"/>
<line x1="33" y1="229.5" x2="35" y2="229.5"/>
<line x1="1856" y1="229.5" x2="1858" y2="229.5"/>
<line x1="33" y1="227.5" x2="35" y2="227.5"/>
<line x1="1856" y1="227.5" x2="1858" y2="227.5"/>
<line x1="30" y1="225.5" x2="35" y2="225.5"/>
<line x1="1856" y1="225.5" x2="1861" y2="225.5"/>
<line x1="33" y1="223.5" x2="35" y2="223.5"/>
<line x1="1856" y1="223.5" x2="1858" y2="223.5"/>
<line x1="33" y1="221.5" x2="35" y2="221.5"/>
<line x1="1856" y1="221.5" x2="1858" y2="221.5"/>
<line x1="33" y1="220.5" x2="35" y2="220.5"/>
<line x1="1856" y1="220.5" x2="1858" y2="220.5"/>
<line x1="33" y1="218.5" x2="35" y2="218.5"/>
<line x1="1856" y1="218.5" x2="1858" y2="218.5"/>
<line x1="30" y1="216.5" x2="35" y2="216.5"/>
<line x1="1856" y1="216.5" x2="1861" y2="216.5"/>
<line x1="33" y1="214.5" x2="35" y2="214.5"/>
<line x1="1856" y1="214.5" x2="1858" y2="214.5"/>
<line x1="33" y1="212.5" x2="35" y2="212.5"/>
<line x1="1856" y1="212.5" x2="1858" y2="212.5"/>
<line x1="33" y1="210.5" x2="35" y2="210.5"/>
<line x1="1856" y1="210.5" x2="1858" y2="210.5"/>
<line x1="33" y1="208.5" x2="35" y2="208.5"/>
<line x1="1856" y1="208.5" x2="1858" y2="208.5"/>
<line x1="30" y1="206.5" x2="35" y2="206.5"/>
<line x1="1856" y1="206.5" x2="1861" y2="206.5"/>
<line x1="33" y1="204.5" x2="35" y2="204.5"/>
<line x1="1856" y1="204.5" x2="1858" y2="204.5"/>
<line x1="33" y1="202.5" x2="35" y2="202.5"/>
<line x1="1856" y1="202.5" x2="1858" y2="202.5"/>
<line x1="33" y1="200.5" x2="35" y2="200.5"/>
<line x1="1856" y1="200.5" x2="1858" y2="200.5"/>
<line x1="33" y1="198.5" x2="35" y2="198.5"/>
<line x1="1856" y1="198.5" x2="1858" y2="198.5"/>
<line x1="30" y1="196.5" x2="35" y2="196.5"/>
<line x1="1856" y1="196.5" x2="1861" y2="196.5"/>
<line x1="33" y1="194.5" x2="35" y2="194.5"/>
<line x1="1856" y1="194.5" x2="1858" y2="194.5"/>
<line x1="33" y1="192.5" x2="35" y2="192.5"/>
<line x1="1856" y1="192.5" x2="1858" y2="192.5"/>
<line x1="33" y1="190.5" x2="35" y2="190.5"/>
<line x1="1856" y1="190.5" x2="1858" y2="190.5"/>
<line x1="33" y1="188.5" x2="35" y2="188.5"/>
<line x1="1856" y1="188.5" x2="1858" y2="188.5"/>
<line x1="30" y1="186.5" x2="35" y2="186.5"/>
<line x1="1856" y1="186.5" x2="1861" y2="186.5"/>
<line x1="33" y1="184.5" x2="35" y2="184.5"/>
<line x1="1856" y1="184.5" x2="1858" y2="184.5"/>
<line x1="33" y1="182.5" x2="35" y2="182.5"/>
<line x1="1856" y1="182.5" x2="1858" y2="182.5"/>
<line x1="33" y1="180.5" x2="35" y2="180.5"/>
<line x1="1856" y1="180.5" x2="1858" y2="180.5"/>
<line x1="33" y1="178.5" x2="35" y2="178.5"/>
<line x1="1856" y1="178.5" x2="1858" y2="178.5"/>
<line x1="30" y1="176.5" x2="35" y2="176.5"/>
<line x1="1856" y1="176.5" x2="1861" y2="176.5"/>
<line x1="33" y1="174.5" x2="35" y2="174.5"/>
<line x1="1856" y1="174.5" x2="1858" y2="174.5"/>
<line x1="33" y1="172.5" x2="35" y2="172.5"/>
<line x1="1856" y1="172.5" x2="1858" y2="172.5"/>
<line x1="33" y1="171.5" x2="35" y2="171.5"/>
<line x1="1856" y1="171.5" x2="1858" y2="171.5"/>
<line x1="33" y1="169.5" x2="35" y2="169.5"/>
<line x1="1856" y1="169.5" x2="1858" y2="169.5"/>
<line x1="30" y1="167.5" x2="35" y2="167.5"/>
<line x1="1856" y1="167.5" x2="1861" y2="167.5"/>
<line x1="33" y1="165.5" x2="35" y2="165.5"/>
<line x1="1856" y1="165.5" x2="1858" y2="165.5"/>
<line x1="33" y1="163.5" x2="35" y2="163.5"/>
<line x1="1856" y1="163.5" x2="1858" y2="163.5"/>
<line x1="33" y1="161.5" x2="35" y2="161.5"/>
<line x1="1856" y1="161.5" x2="1858" y2="161.5"/>
<line x1="33" y1="159.5" x2="35" y2="159.5"/>
<line x1="1856" y1="159.5" x2="1858" y2="159.5"/>
<line x1="30" y1="157.5" x2="35" y2="157.5"/>
<line x1="1856" y1="157.5" x2="1861" y2="157.5"/>
<line x1="33" y1="155.5" x2="35" y2="155.5"/>
<line x1="1856" y1="155.5" x2="1858" y2="155.5"/>
<line x1="33" y1="153.5" x2="35" y2="153.5"/>
<line x1="1856" y1="153.5" x2="1858" y2="153.5"/>
<line x1="33" y1="151.5" x2="35" y2="151.5"/>
<line x1="1856" y1="151.5" x2="1858" y2="151.5"/>
<line x1="33" y1="149.5" x2="35" y2="149.5"/>
<line x1="1856" y1="149.5" x2="1858" y2="149.5"/>
<line x1="30" y1="147.5" x2="35" y2="147.5"/>
<line x1="1856" y1="147.5" x2="1861" y2="147.5"/>
<line x1="33" y1="145.5" x2="35" y2="145.5"/>
<line x1="1856" y1="145.5" x2="1858" y2="145.5"/>
<line x1="33" y1="143.5" x2="35" y2="143.5"/>
<line x1="1856" y1="143.5" x2="1858" y2="143.5"/>
<line x1="33" y1="141.5" x2="35" y2="141.5"/>
<line x1="1856" y1="141.5" x2="1858" y2="141.5"/>
<line x1="33" y1="139.5" x2="35" y2="139.5"/>
<line x1="1856" y1="139.5" x2="1858" y2="139.5"/>
<line x1="30" y1="137.5" x2="35" y2="137.5"/>
<line x1="1856" y1="137.5" x2="1861" y2="137.5"/>
<line x1="33" y1="135.5" x2="35" y2="135.5"/>
<line x1="1856" y1="135.5" x2="1858" y2="135.5"/>
<line x1="33" y1="133.5" x2="35" y2="133.5"/>
<line x1="1856" y1="133.5" x2="1858" y2="133.5"/>
<line x1="33" y1="131.5" x2="35" y2="131.5"/>
<line x1="1856" y1="131.5" x2="1858" y2="131.5"/>
<line x1="33" y1="129.5" x2="35" y2="129.5"/>
<line x1="1856" y1="129.5" x2="1858" y2="129.5"/>
<line x1="30" y1="127.5" x2="35" y2="127.5"/>
<line x1="1856" y1="127.5" x2="1861" y2="127.5"/>
<line x1="33" y1="125.5" x2="35" y2="125.5"/>
<line x1="1856" y1="125.5" x2="1858" y2="125.5"/>
<line x1="33" y1="123.5" x2="35" y2="123.5"/>
<line x1="1856" y1="123.5" x2="1858" y2="123.5"/>
<line x1="33" y1="122.5" x2="35" y2="122.5"/>
<line x1="1856" y1="122.5" x2="1858" y2="122.5"/>
<line x1="33" y1="120.5" x2="35" y2="120.5"/>
<line x1="1856" y1="120.5" x2="1858" y2="120.5"/>
<line x1="30" y1="118.5" x2="35" y2="118.5"/>
<line x1="1856" y1="118.5" x2="1861" y2="118.5"/>
<line x1="33" y1="116.5" x2="35" y2="116.5"/>
<line x1="1856" y1="116.5" x2="1858" y2="116.5"/>
<line x1="33" y1="114.5" x2="35" y2="114.5"/>
<line x1="1856" y1="114.5" x2="1858" y2="114.5"/>
<line x1="33" y1="112.5" x2="35" y2="112.5"/>
<line x1="1856" y1="112.5" x2="1858" y2="112.5"/>
<line x1="33" y1="110.5" x2="35" y2="110.5"/>
<line x1="1856" y1="110.5" x2="1858" y2="110.5"/>
<line x1="30" y1="108.5" x2="35" y2="108.5"/>
<line x1="1856" y1="108.5" x2="1861" y2="108.5"/>
<line x1="33" y1="106.5" x2="35" y2="106.5"/>
<line x1="1856" y1="106.5" x2="1858" y2="106.5"/>
<line x1="33" y1="104.5" x2="35" y2="104.5"/>
<line x1="1856" y1="104.5" x2="1858" y2="104.5"/>
<line x1="33" y1="102.5" x2="35" y2="102.5"/>
<line x1="1856" y1="102.5" x2="1858" y2="102.5"/>
<line x1="33" y1="100.5" x2="35" y2="100.5"/>
<line x1="1856" y1="100.5" x2="1858" y2="100.5"/>
<line x1="30" y1="98.5" x2="35" y2="98.5"/>
<line x1="1856" y1="98.5" x2="1861" y2="98.5"/>
<line x1="33" y1="96.5" x2="35" y2="96.5"/>
<line x1="1856" y1="96.5" x2="1858" y2="96.5"/>
<line x1="33" y1="94.5" x2="35" y2="94.5"/>
<line x1="1856" y1="94.5" x2="1858" y2="94.5"/>
<line x1="33" y1="92.5" x2="35" y2="92.5"/>
<line x1="1856" y1="92.5" x2="1858" y2="92.5"/>
<line x1="33" y1="90.5" x2="35" y2="90.5"/>
<line x1="1856" y1="90.5" x2="1858" y2="90.5"/>
<line x1="30" y1="88.5" x2="35" y2="88.5"/>
<line x1="1856" y1="88.5" x2="1861" y2="88.5"/>
<line x1="33" y1="86.5" x2="35" y2="86.5"/>
<line x1="1856" y1="86.5" x2="1858" y2="86.5"/>
<line x1="33" y1="84.5" x2="35" y2="84.5"/>
<line x1="1856" y1="84.5" x2="1858" y2="84.5"/>
<line x1="33" y1="82.5" x2="35" y2="82.5"/>
<line x1="1856" y1="82.5" x2="1858" y2="82.5"/>
<line x1="33" y1="80.5" x2="35" y2="80.5"/>
<line x1="1856" y1="80.5" x2="1858" y2="80.5"/>
<line x1="30" y1="78.5" x2="35" y2="78.5"/>
<line x1="1856" y1="78.5" x2="1861" y2="78.5"/>
<line x1="33" y1="76.5" x2="35" y2="76.5"/>
<line x1="1856" y1="76.5" x2="1858" y2="76.5"/>
<line x1="33" y1="74.5" x2="35" y2="74.5"/>
<line x1="1856" y1="74.5" x2="1858" y2="74.5"/>
<line x1="33" y1="73.5" x2="35" y2="73.5"/>
<line x1="1856" y1="73.5" x2="1858" y2="73.5"/>
<line x1="33" y1="71.5" x2="35" y2="71.5"/>
<line x1="1856" y1="71.5" x2="1858" y2="71.5"/>
<line x1="30" y1="69.5" x2="35" y2="69.5"/>
<line x1="1856" y1="69.5" x2="1861" y2="69.5"/>
<line x1="33" y1="67.5" x2="35" y2="67.5"/>
<line x1="1856" y1="67.5" x2="1858" y2="67.5"/>
<line x1="33" y1="65.5" x2="35" y2="65.5"/>
<line x1="1856" y1="65.5" x2="1858" y2="65.5"/>
<line x1="33" y1="63.5" x2="35" y2="63.5"/>
<line x1="1856" y1="63.5" x2="1858" y2="63.5"/>
<line x1="33" y1="61.5" x2="35" y2="61.5"/>
<line x1="1856" y1="61.5" x2="1858" y2="61.5"/>
<line x1="30" y1="59.5" x2="35" y2="59.5"/>
<line x1="1856" y1="59.5" x2="1861" y2="59.5"/>
<line x1="33" y1="57.5" x2="35" y2="57.5"/>
<line x1="1856" y1="57.5" x2="1858" y2="57.5"/>
<line x1="33" y1="55.5" x2="35" y2="55.5"/>
<line x1="1856" y1="55.5" x2="1858" y2="55.5"/>
<line x1="33" y1="53.5" x2="35" y2="53.5"/>
<line x1="1856" y1="53.5" x2="1858" y2="53.5"/>
<line x1="33" y1="51.5" x2="35" y2="51.5"/>
<line x1="1856" y1="51.5" x2="1858" y2="51.5"/>
<line x1="30" y1="49.5" x2="35" y2="49.5"/>
<line x1="1856" y1="49.5" x2="1861" y2="49.5"/>
<line x1="33" y1="47.5" x2="35" y2="47.5"/>
<line x1="1856" y1="47.5" x2="1858" y2="47.5"/>
<line x1="33" y1="45.5" x2="35" y2="45.5"/>
<line x1="1856" y1="45.5" x2="1858" y2="45.5"/>
<line x1="33" y1="43.5" x2="35" y2="43.5"/>
<line x1="1856" y1="43.5" x2="1858" y2="43.5"/>
<line x1="33" y1="41.5" x2="35" y2="41.5"/>
<line x1="1856" y1="41.5" x2="1858" y2="41.5"/>
<line x1="30" y1="39.5" x2="35" y2="39.5"/>
<line x1="1856" y1="39.5" x2="1861" y2="39.5"/>
<line x1="33" y1="37.5" x2="35" y2="37.5"/>
<line x1="1856" y1="37.5" x2="1858" y2="37.5"/>
<line x1="33" y1="35.5" x2="35" y2="35.5"/>
<line x1="1856" y1="35.5" x2="1858" y2="35.5"/>
<line x1="33" y1="33.5" x2="35" y2="33.5"/>
<line x1="1856" y1="33.5" x2="1858" y2="33.5"/>
<line x1="33" y1="31.5" x2="35" y2="31.5"/>
<line x1="1856" y1="31.5" x2="1858" y2="31.5"/>
<line x1="30" y1="29.5" x2="35" y2="29.5"/>
<line x1="1856" y1="29.5" x2="1861" y2="29.5"/>
<line x1="33" y1="27.5" x2="35" y2="27.5"/>
<line x1="1856" y1="27.5" x2="1858" y2="27.5"/>
<line x1="33" y1="25.5" x2="35" y2="25.5"/>
<line x1="1856" y1="25.5" x2="1858" y2="25.5"/>
<line x1="33" y1="24.5" x2="35" y2="24.5"/>
<line x1="1856" y1="24.5" x2="1858" y2="24.5"/>
<line x1="33" y1="22.5" x2="35" y2="22.5"/>
<line x1="1856" y1="22.5" x2="1858" y2="22.5"/>
<line x1="30" y1="20.5" x2="35" y2="20.5"/>
<line x1="1856" y1="20.5" x2="1861" y2="20.5"/>
<line x1="33" y1="18.5" x2="35" y2="18.5"/>
<line x1="1856" y1="18.5" x2="1858" y2="18.5"/>
<line x1="33" y1="16.5" x2="35" y2="16.5"/>
<line x1="1856" y1="16.5" x2="1858" y2="16.5"/>
<line x1="33" y1="14.5" x2="35" y2="14.5"/>
<line x1="1856" y1="14.5" x2="1858" y2="14.5"/>
<line x1="33" y1="12.5" x2="35" y2="12.5"/>
<line x1="1856" y1="12.5" x2="1858" y2="12.5"/>
<line x1="30" y1="10.5" x2="35" y2="10.5"/>
<line x1="1856" y1="10.5" x2="1861" y2="10.5"/>
<line x1="33" y1="8.5" x2="35" y2="8.5"/>
<line x1="1856" y1="8.5" x2="1858" y2="8.5"/>
<line x1="33" y1="6.5" x2="35" y2="6.5"/>
<line x1="1856" y1="6.5" x2="1858" y2="6.5"/>
<line x1="33" y1="4.5" x2="35" y2="4.5"/>
<line x1="1856" y1="4.5" x2="1858" y2="4.5"/>
<line x1="33" y1="2.5" x2="35" y2="2.5"/>
<line x1="1856" y1="2.5" x2="1858" y2="2.5"/>
<line x1="33" y1="588.5" x2="35" y2="588.5"/>
<line x1="1856" y1="588.5" x2="1858" y2="588.5"/>
<line x1="32" y1="873.5" x2="35" y2="873.5"/>
<line x1="1856" y1="873.5" x2="1859" y2="873.5"/>
<line x1="30" y1="865.5" x2="35" y2="865.5"/>
<line x1="1856" y1="865.5" x2="1861" y2="865.5"/>
<line x1="32" y1="857.5" x2="35" y2="857.5"/>
<line x1="1856" y1="857.5" x2="1859" y2="857.5"/>
<line x1="32" y1="849.5" x2="35" y2="849.5"/>
<line x1="1856" y1="849.5" x2="1859" y2="849.5"/>
<line x1="32" y1="842.5" x2="35" y2="842.5"/>
<line x1="1856" y1="842.5" x2="1859" y2="842.5"/>
<line x1="32" y1="834.5" x2="35" y2="834.5"/>
<line x1="1856" y1="834.5" x2="1859" y2="834.5"/>
<line x1="30" y1="826.5" x2="35" y2="826.5"/>
<line x1="1856" y1="826.5" x2="1861" y2="826.5"/>
<line x1="32" y1="818.5" x2="35" y2="818.5"/>
<line x1="1856" y1="818.5" x2="1859" y2="818.5"/>
<line x1="32" y1="810.5" x2="35" y2="810.5"/>
<line x1="1856" y1="810.5" x2="1859" y2="810.5"/>
<line x1="32" y1="802.5" x2="35" y2="802.5"/>
<line x1="1856" y1="802.5" x2="1859" y2="802.5"/>
<line x1="32" y1="794.5" x2="35" y2="794.5"/>
<line x1="1856" y1="794.5" x2="1859" y2="794.5"/>
<line x1="30" y1="786.5" x2="35" y2="786.5"/>
<line x1="1856" y1="786.5" x2="1861" y2="786.5"/>
<line x1="32" y1="779.5" x2="35" y2="779.5"/>
<line x1="1856" y1="779.5" x2="1859" y2="779.5"/>
<line x1="32" y1="771.5" x2="35" y2="771.5"/>
<line x1="1856" y1="771.5" x2="1859" y2="771.5"/>
<line x1="32" y1="763.5" x2="35" y2="763.5"/>
<line x1="1856" y1="763.5" x2="1859" y2="763.5"/>
<line x1="32" y1="755.5" x2="35" y2="755.5"/>
<line x1="1856" y1="755.5" x2="1859" y2="755.5"/>
<line x1="30" y1="747.5" x2="35" y2="747.5"/>
<line x1="1856" y1="747.5" x2="1861" y2="747.5"/>
<line x1="32" y1="739.5" x2="35" y2="739.5"/>
<line x1="1856" y1="739.5" x2="1859" y2="739.5"/>
<line x1="32" y1="731.5" x2="35" y2="731.5"/>
<line x1="1856" y1="731.5" x2="1859" y2="731.5"/>
<line x1="32" y1="723.5" x2="35" y2="723.5"/>
<line x1="1856" y1="723.5" x2="1859" y2="723.5"/>
<line x1="32" y1="715.5" x2="35" y2="715.5"/>
<line x1="1856" y1="715.5" x2="1859" y2="715.5"/>
<line x1="30" y1="708.5" x2="35" y2="708.5"/>
<line x1="1856" y1="708.5" x2="1861" y2="708.5"/>
<line x1="32" y1="700.5" x2="35" y2="700.5"/>
<line x1="1856" y1="700.5" x2="1859" y2="700.5"/>
<line x1="32" y1="692.5" x2="35" y2="692.5"/>
<line x1="1856" y1="692.5" x2="1859" y2="692.5"/>
<line x1="32" y1="684.5" x2="35" y2="684.5"/>
<line x1="1856" y1="684.5" x2="1859" y2="684.5"/>
<line x1="32" y1="676.5" x2="35" y2="676.5"/>
<line x1="1856" y1="676.5" x2="1859" y2="676.5"/>
<line x1="30" y1="668.5" x2="35" y2="668.5"/>
<line x1="1856" y1="668.5" x2="1861" y2="668.5"/>
<line x1="32" y1="660.5" x2="35" y2="660.5"/>
<line x1="1856" y1="660.5" x2="1859" y2="660.5"/>
<line x1="32" y1="652.5" x2="35" y2="652.5"/>
<line x1="1856" y1="652.5" x2="1859" y2="652.5"/>
<line x1="32" y1="645.5" x2="35" y2="645.5"/>
<line x1="1856" y1="645.5" x2="1859" y2="645.5"/>
<line x1="32" y1="637.5" x2="35" y2="637.5"/>
<line x1="1856" y1="637.5" x2="1859" y2="637.5"/>
<line x1="30" y1="629.5" x2="35" y2="629.5"/>
<line x1="1856" y1="629.5" x2="1861" y2="629.5"/>
<line x1="32" y1="621.5" x2="35" y2="621.5"/>
<line x1="1856" y1="621.5" x2="1859" y2="621.5"/>
<line x1="32" y1="613.5" x2="35" y2="613.5"/>
<line x1="1856" y1="613.5" x2="1859" y2="613.5"/>
<line x1="32" y1="605.5" x2="35" y2="605.5"/>
<line x1="1856" y1="605.5" x2="1859" y2="605.5"/>
<line x1="32" y1="597.5" x2="35" y2="597.5"/>
<line x1="1856" y1="597.5" x2="1859" y2="597.5"/>
<line x1="70.5" y1="880" x2="70.5" y2="892"/>
<line x1="107.5" y1="880" x2="107.5" y2="892"/>
<line x1="144.5" y1="880" x2="144.5" y2="892"/>
<line x1="181.5" y1="880" x2="181.5" y2="892"/>
<line x1="218.5" y1="880" x2="218.5" y2="892"/>
<line x1="256.5" y1="880" x2="256.5" y2="892"/>
<line x1="270.5" y1="880" x2="270.5" y2="892"/>
<line x1="293.5" y1="880" x2="293.5" y2="892"/>
<line x1="330.5" y1="880" x2="330.5" y2="892"/>
<line x1="367.5" y1="880" x2="367.5" y2="892"/>
<line x1="405.5" y1="880" x2="405.5" y2="892"/>
<line x1="442.5" y1="880" x2="442.5" y2="892"/>
<line x1="480.5" y1="880" x2="480.5" y2="892"/>
<line x1="517.5" y1="880" x2="517.5" y2="892"/>
<line x1="554.5" y1="880" x2="554.5" y2="892"/>
<line x1="591.5" y1="880" x2="591.5" y2="892"/>
<line x1="629.5" y1="880" x2="629.5" y2="892"/>
<line x1="666.5" y1="880" x2="666.5" y2="892"/>
<line x1="703.5" y1="880" x2="703.5" y2="892"/>
<line x1="740.5" y1="880" x2="740.5" y2="892"/>
<line x1="777.5" y1="880" x2="777.5" y2="892"/>
<line x1="815.5" y1="880" x2="815.5" y2="892"/>
<line x1="845.5" y1="880" x2="845.5" y2="892"/>
<line x1="874.5" y1="880" x2="874.5" y2="892"/>
<line x1="905.5" y1="880" x2="905.5" y2="892"/>
<line x1="942.5" y1="880" x2="942.5" y2="892"/>
<line x1="979.5" y1="880" x2="979.5" y2="892"/>
<line x1="1016.5" y1="880" x2="1016.5" y2="892"/>
<line x1="1053.5" y1="880" x2="1053.5" y2="892"/>
<line x1="1091.5" y1="880" x2="1091.5" y2="892"/>
<line x1="1128.5" y1="880" x2="1128.5" y2="892"/>
<line x1="1165.5" y1="880" x2="1165.5" y2="892"/>
<line x1="1202.5" y1="880" x2="1202.5" y2="892"/>
<line x1="1240.5" y1="880" x2="1240.5" y2="892"/>
<line x1="1277.5" y1="880" x2="1277.5" y2="892"/>
<line x1="1314.5" y1="880" x2="1314.5" y2="892"/>
<line x1="1352.5" y1="880" x2="1352.5" y2="892"/>
<line x1="1389.5" y1="880" x2="1389.5" y2="892"/>
<line x1="1426.5" y1="880" x2="1426.5" y2="892"/>
<line x1="1456.5" y1="880" x2="1456.5" y2="892"/>
<line x1="1493.5" y1="880" x2="1493.5" y2="892"/>
<line x1="1530.5" y1="880" x2="1530.5" y2="892"/>
<line x1="1568.5" y1="880" x2="1568.5" y2="892"/>
<line x1="1605.5" y1="880" x2="1605.5" y2="892"/>
<line x1="1643.5" y1="880" x2="1643.5" y2="892"/>
<line x1="1680.5" y1="880" x2="1680.5" y2="892"/>
<line x1="1717.5" y1="880" x2="1717.5" y2="892"/>
<line x1="1754.5" y1="880" x2="1754.5" y2="892"/>
<line x1="1792.5" y1="880" x2="1792.5" y2="892"/>
<line x1="1829.5" y1="880" x2="1829.5" y2="892"/>
<line x1="144.5" y1="880" x2="144.5" y2="902"/>
<line x1="278.5" y1="880" x2="278.5" y2="902"/>
<line x1="442.5" y1="880" x2="442.5" y2="902"/>
<line x1="591.5" y1="880" x2="591.5" y2="902"/>
<line x1="747.5" y1="880" x2="747.5" y2="902"/>
<line x1="897.5" y1="880" x2="897.5" y2="902"/>
<line x1="1053.5" y1="880" x2="1053.5" y2="902"/>
<line x1="1210.5" y1="880" x2="1210.5" y2="902"/>
<line x1="1382.5" y1="880" x2="1382.5" y2="902"/>
<line x1="1530.5" y1="880" x2="1530.5" y2="902"/>
<line x1="1695.5" y1="880" x2="1695.5" y2="902"/>
<polyline fill="none" points="2.5,880 2.5,872.5 18.5,872.5 18.5,880"/>
<polyline fill="none" points="1857.5,880 1857.5,872.5 1873.5,872.5 1873.5,880"/>
</g>
<g fill="#1e1e26" font-size="8.2px" shape-rendering="auto">
<text x="26.5" y="581.7" text-anchor="end">43.5</text>
<text x="1887.5" y="581.7" text-anchor="end">43.5</text>
<text x="26.5" y="571.9" text-anchor="end">44.0</text>
<text x="1887.5" y="571.9" text-anchor="end">44.0</text>
<text x="26.5" y="562.1" text-anchor="end">44.5</text>
<text x="1887.5" y="562.1" text-anchor="end">44.5</text>
<text x="26.5" y="552.3" text-anchor="end">45.0</text>
<text x="1887.5" y="552.3" text-anchor="end">45.0</text>
<text x="26.5" y="542.5" text-anchor="end">45.5</text>
<text x="1887.5" y="542.5" text-anchor="end">45.5</text>
<text x="26.5" y="532.7" text-anchor="end">46.0</text>
<text x="1887.5" y="532.7" text-anchor="end">46.0</text>
<text x="26.5" y="522.9" text-anchor="end">46.5</text>
<text x="1887.5" y="522.9" text-anchor="end">46.5</text>
<text x="26.5" y="513.1" text-anchor="end">47.0</text>
<text x="1887.5" y="513.1" text-anchor="end">47.0</text>
<text x="26.5" y="503.3" text-anchor="end">47.5</text>
<text x="1887.5" y="503.3" text-anchor="end">47.5</text>
<text x="26.5" y="493.5" text-anchor="end">48.0</text>
<text x="1887.5" y="493.5" text-anchor="end">48.0</text>
<text x="26.5" y="483.7" text-anchor="end">48.5</text>
<text x="1887.5" y="483.7" text-anchor="end">48.5</text>
<text x="26.5" y="473.9" text-anchor="end">49.0</text>
<text x="1887.5" y="473.9" text-anchor="end">49.0</text>
<text x="26.5" y="464.1" text-anchor="end">49.5</text>
<text x="1887.5" y="464.1" text-anchor="end">49.5</text>
<text x="26.5" y="454.3" text-anchor="end">50.0</text>
<text x="1887.5" y="454.3" text-anchor="end">50.0</text>
<text x="26.5" y="444.5" text-anchor="end">50.5</text>
<text x="1887.5" y="444.5" text-anchor="end">50.5</text>
<text x="26.5" y="434.7" text-anchor="end">51.0</text>
<text x="1887.5" y="434.7" text-anchor="end">51.0</text>
<text x="26.5" y="424.9" text-anchor="end">51.5</text>
<text x="1887.5" y="424.9" text-anchor="end">51.5</text>
<text x="26.5" y="415.1" text-anchor="end">52.0</text>
<text x="1887.5" y="415.1" text-anchor="end">52.0</text>
<text x="26.5" y="405.3" text-anchor="end">52.5</text>
<text x="1887.5" y="405.3" text-anchor="end">52.5</text>
<text x="26.5" y="395.5" text-anchor="end">53.0</text>
<text x="1887.5" y="395.5" text-anchor="end">53.0</text>
<text x="26.5" y="385.7" text-anchor="end">53.5</text>
<text x="1887.5" y="385.7" text-anchor="end">53.5</text>
<text x="26.5" y="375.9" text-anchor="end">54.0</text>
<text x="1887.5" y="375.9" text-anchor="end">54.0</text>
<text x="26.5" y="366.1" text-anchor="end">54.5</text>
<text x="1887.5" y="366.1" text-anchor="end">54.5</text>
<text x="26.5" y="356.3" text-anchor="end">55.0</text>
<text x="1887.5" y="356.3" text-anchor="end">55.0</text>
<text x="26.5" y="346.5" text-anchor="end">55.5</text>
<text x="1887.5" y="346.5" text-anchor="end">55.5</text>
<text x="26.5" y="336.7" text-anchor="end">56.0</text>
<text x="1887.5" y="336.7" text-anchor="end">56.0</text>
<text x="26.5" y="326.9" text-anchor="end">56.5</text>
<text x="1887.5" y="326.9" text-anchor="end">56.5</text>
<text x="26.5" y="317.1" text-anchor="end">57.0</text>
<text x="1887.5" y="317.1" text-anchor="end">57.0</text>
<text x="26.5" y="307.3" text-anchor="end">57.5</text>
<text x="1887.5" y="307.3" text-anchor="end">57.5</text>
<text x="26.5" y="297.5" text-anchor="end">58.0</text>
<text x="1887.5" y="297.5" text-anchor="end">58.0</text>
<text x="26.5" y="287.7" text-anchor="end">58.5</text>
<text x="1887.5" y="287.7" text-anchor="end">58.5</text>
<text x="26.5" y="277.9" text-anchor="end">59.0</text>
<text x="1887.5" y="277.9" text-anchor="end">59.0</text>
<text x="26.5" y="268.1" text-anchor="end">59.5</text>
<text x="1887.5" y="268.1" text-anchor="end">59.5</text>
<text x="26.5" y="258.3" text-anchor="end">60.0</text>
<text x="1887.5" y="258.3" text-anchor="end">60.0</text>
<text x="26.5" y="248.5" text-anchor="end">60.5</text>
<text x="1887.5" y="248.5" text-anchor="end">60.5</text>
<text x="26.5" y="238.7" text-anchor="end">61.0</text>
<text x="1887.5" y="238.7" text-anchor="end">61.0</text>
<text x="26.5" y="228.9" text-anchor="end">61.5</text>
<text x="1887.5" y="228.9" text-anchor="end">61.5</text>
<text x="26.5" y="219.1" text-anchor="end">62.0</text>
<text x="1887.5" y="219.1" text-anchor="end">62.0</text>
<text x="26.5" y="209.3" text-anchor="end">62.5</text>
<text x="1887.5" y="209.3" text-anchor="end">62.5</text>
<text x="26.5" y="199.5" text-anchor="end">63.0</text>
<text x="1887.5" y="199.5" text-anchor="end">63.0</text>
<text x="26.5" y="189.7" text-anchor="end">63.5</text>
<text x="1887.5" y="189.7" text-anchor="end">63.5</text>
<text x="26.5" y="179.9" text-anchor="end">64.0</text>
<text x="1887.5" y="179.9" text-anchor="end">64.0</text>
<text x="26.5" y="170.1" text-anchor="end">64.5</text>
<text x="1887.5" y="170.1" text-anchor="end">64.5</text>
<text x="26.5" y="160.3" text-anchor="end">65.0</text>
<text x="1887.5" y="160.3" text-anchor="end">65.0</text>
<text x="26.5" y="150.5" text-anchor="end">65.5</text>
<text x="1887.5" y="150.5" text-anchor="end">65.5</text>
<text x="26.5" y="140.7" text-anchor="end">66.0</text>
<text x="1887.5" y="140.7" text-anchor="end">66.0</text>
<text x="26.5" y="130.9" text-anchor="end">66.5</text>
<text x="1887.5" y="130.9" text-anchor="end">66.5</text>
<text x="26.5" y="121.1" text-anchor="end">67.0</text>
<text x="1887.5" y="121.1" text-anchor="end">67.0</text>
<text x="26.5" y="111.3" text-anchor="end">67.5</text>
<text x="1887.5" y="111.3" text-anchor="end">67.5</text>
<text x="26.5" y="101.5" text-anchor="end">68.0</text>
<text x="1887.5" y="101.5" text-anchor="end">68.0</text>
<text x="26.5" y="91.7" text-anchor="end">68.5</text>
<text x="1887.5" y="91.7" text-anchor="end">68.5</text>
<text x="26.5" y="81.9" text-anchor="end">69.0</text>
<text x="1887.5" y="81.9" text-anchor="end">69.0</text>
<text x="26.5" y="72.1" text-anchor="end">69.5</text>
<text x="1887.5" y="72.1" text-anchor="end">69.5</text>
<text x="26.5" y="62.3" text-anchor="end">70.0</text>
<text x="1887.5" y="62.3" text-anchor="end">70.0</text>
<text x="26.5" y="52.5" text-anchor="end">70.5</text>
<text x="1887.5" y="52.5" text-anchor="end">70.5</text>
<text x="26.5" y="42.7" text-anchor="end">71.0</text>
<text x="1887.5" y="42.7" text-anchor="end">71.0</text>
<text x="26.5" y="32.9" text-anchor="end">71.5</text>
<text x="1887.5" y="32.9" text-anchor="end">71.5</text>
<text x="26.5" y="23.1" text-anchor="end">72.0</text>
<text x="1887.5" y="23.1" text-anchor="end">72.0</text>
<text x="26.5" y="13.3" text-anchor="end">72.5</text>
<text x="1887.5" y="13.3" text-anchor="end">72.5</text>
<text x="26.9" y="868.7" text-anchor="end" letter-spacing="0.4">5000</text>
<text x="1887.9" y="868.7" text-anchor="end" letter-spacing="0.4">5000</text>
<text x="26.9" y="829.3" text-anchor="end" letter-spacing="0.4">10000</text>
<text x="1887.9" y="829.3" text-anchor="end" letter-spacing="0.4">10000</text>
<text x="26.9" y="789.9" text-anchor="end" letter-spacing="0.4">15000</text>
<text x="1887.9" y="789.9" text-anchor="end" letter-spacing="0.4">15000</text>
<text x="26.9" y="750.5" text-anchor="end" letter-spacing="0.4">20000</text>
<text x="1887.9" y="750.5" text-anchor="end" letter-spacing="0.4">20000</text>
<text x="26.9" y="711.1" text-anchor="end" letter-spacing="0.4">25000</text>
<text x="1887.9" y="711.1" text-anchor="end" letter-spacing="0.4">25000</text>
<text x="26.9" y="671.7" text-anchor="end" letter-spacing="0.4">30000</text>
<text x="1887.9" y="671.7" text-anchor="end" letter-spacing="0.4">30000</text>
<text x="26.9" y="632.3" text-anchor="end" letter-spacing="0.4">35000</text>
<text x="1887.9" y="632.3" text-anchor="end" letter-spacing="0.4">35000</text>
<text x="36.3" y="888.6">11</text>
<text x="71.6" y="888.6">18</text>
<text x="108.6" y="888.6">25</text>
<text x="145.6" y="888.6">2</text>
<text x="182.6" y="888.6">9</text>
<text x="219.6" y="888.6">16</text>
<text x="257.6" y="888.6">23</text>
<text x="271.6" y="888.6">30</text>
<text x="294.6" y="888.6">6</text>
<text x="331.6" y="888.6">13</text>
<text x="368.6" y="888.6">20</text>
<text x="406.6" y="888.6">27</text>
<text x="443.6" y="888.6">3</text>
<text x="481.6" y="888.6">10</text>
<text x="518.6" y="888.6">17</text>
<text x="555.6" y="888.6">24</text>
<text x="592.6" y="888.6">3</text>
<text x="630.6" y="888.6">10</text>
<text x="667.6" y="888.6">17</text>
<text x="704.6" y="888.6">24</text>
<text x="741.6" y="888.6">31</text>
<text x="778.6" y="888.6">7</text>
<text x="816.6" y="888.6">14</text>
<text x="846.6" y="888.6">22</text>
<text x="875.6" y="888.6">28</text>
<text x="906.6" y="888.6">5</text>
<text x="943.6" y="888.6">12</text>
<text x="980.6" y="888.6">19</text>
<text x="1017.6" y="888.6">26</text>
<text x="1054.6" y="888.6">2</text>
<text x="1092.6" y="888.6">9</text>
<text x="1129.6" y="888.6">16</text>
<text x="1166.6" y="888.6">23</text>
<text x="1203.6" y="888.6">30</text>
<text x="1241.6" y="888.6">7</text>
<text x="1278.6" y="888.6">14</text>
<text x="1315.6" y="888.6">21</text>
<text x="1353.6" y="888.6">28</text>
<text x="1390.6" y="888.6">4</text>
<text x="1427.6" y="888.6">11</text>
<text x="1457.6" y="888.6">18</text>
<text x="1494.6" y="888.6">25</text>
<text x="1531.6" y="888.6">1</text>
<text x="1569.6" y="888.6">8</text>
<text x="1606.6" y="888.6">15</text>
<text x="1644.6" y="888.6">22</text>
<text x="1681.6" y="888.6">29</text>
<text x="1718.6" y="888.6">6</text>
<text x="1755.6" y="888.6">13</text>
<text x="1793.6" y="888.6">20</text>
<text x="1830.6" y="888.6">27</text>
<text x="145.6" y="899.8">December</text>
<text x="279.6" y="899.8">2025</text>
<text x="443.6" y="899.8">February</text>
<text x="592.6" y="899.8">March</text>
<text x="748.6" y="899.8">April</text>
<text x="898.6" y="899.8">May</text>
<text x="1054.6" y="899.8">June</text>
<text x="1211.6" y="899.8">July</text>
<text x="1383.6" y="899.8">August</text>
<text x="1531.6" y="899.8">September</text>
<text x="1696.6" y="899.8">October</text>
<text x="830" y="11" textLength="230" lengthAdjust="spacing">MONCLER (52.0000, 53.3400, 51.4800, 52.4200, +3.78000)</text>
<text x="4" y="878.5" font-size="5.5px">x100</text>
<text x="1859" y="878.5" font-size="5.5px">x100</text>
</g>
<rect x="133.5" y="553.5" width="206" height="12" fill="#fff" stroke="#000" stroke-width="1"/>
<text x="134.8" y="563.2" font-size="9.6px" font-weight="bold" fill="#000" stroke="#000" stroke-width="0.35" textLength="203" lengthAdjust="spacing" shape-rendering="auto">COPYRIGHT@LABORSADEIPICCOLI.COM</text>
<rect x="1048.5" y="25.5" width="492" height="175" fill="#e0fad4" stroke="#000" stroke-width="1"/>
<g font-size="14.67px" font-weight="bold" fill="#000" stroke="#000" stroke-width="0.2" shape-rendering="auto">
<text x="1050.3" y="39.3" textLength="363.1" lengthAdjust="spacing">Ripartenza possibile dicevo ieri sera ma nessuno si</text>
<text x="1050.3" y="56.3" textLength="446.7" lengthAdjust="spacing">aspettava una apertura simile direttamente in resistenza sui 52.</text>
<text x="1050.3" y="74.3" textLength="449.5" lengthAdjust="spacing">White candle in accelerazione finoa i 53,34 e close sui 52,42 per</text>
<text x="1050.3" y="91.3" textLength="228.3" lengthAdjust="spacing">Moncler con scambi eccezionali.</text>
<text x="1050.3" y="109.3" textLength="418.7" lengthAdjust="spacing">Non torna indietro come Ferragamo nonostante la chiusura</text>
<text x="1050.3" y="126.3" textLength="384.5" lengthAdjust="spacing">precisa del gap down di giugno che era ancora aperto.</text>
<text x="1050.3" y="144.3" textLength="443.1" lengthAdjust="spacing">Ieri tecnicamente era stata perfetta o quasi ma non l&#39;ho proprio</text>
<text x="1050.3" y="162.3" textLength="487.9" lengthAdjust="spacing">seguita per cui c&#39;e&#39; del rammarico ma solamente con il senno del poi.</text>
<text x="1050.3" y="179.3" textLength="358.4" lengthAdjust="spacing">Sopra i 53,3 potrà continuare per puntare i 55,5-56.</text>
<text x="1050.3" y="197.3" textLength="166.3" lengthAdjust="spacing">Indecisione sotto i 51,3.</text>
</g>
</svg>
</body></html>
